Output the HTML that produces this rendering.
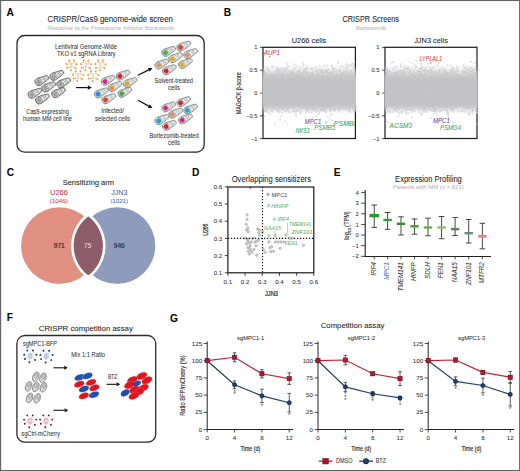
<!DOCTYPE html>
<html><head><meta charset="utf-8"><style>
html,body{margin:0;padding:0;background:#fff;}
svg{display:block;font-family:"Liberation Sans", sans-serif;}
</style></head><body>
<svg width="520" height="471" viewBox="0 0 520 471">
<rect width="520" height="471" fill="#fff"/>
<rect x="0" y="0" width="520" height="1.05" fill="#606060"/>
<rect x="0" y="0" width="1.15" height="471" fill="#646464"/>
<rect x="0" y="470" width="520" height="1" fill="#606060"/>
<rect x="519" y="0" width="1" height="471" fill="#707070"/>
<text x="6.5" y="15.6" font-size="10.2" fill="#000" font-weight="bold" >A</text>
<text x="223.8" y="15.5" font-size="10.2" fill="#000" font-weight="bold" >B</text>
<text x="6.8" y="175.6" font-size="10.2" fill="#000" font-weight="bold" >C</text>
<text x="192.1" y="175.9" font-size="10.2" fill="#000" font-weight="bold" >D</text>
<text x="333.8" y="175.6" font-size="10.2" fill="#000" font-weight="bold" >E</text>
<text x="6.8" y="321.3" font-size="10.2" fill="#000" font-weight="bold" >F</text>
<text x="170" y="322" font-size="10.2" fill="#000" font-weight="bold" >G</text>
<text x="47.5" y="21.8" font-size="8.5" fill="#222" stroke="#222" stroke-width="0.06" textLength="125.5" lengthAdjust="spacingAndGlyphs" >CRISPR/Cas9 genome-wide screen</text>
<text x="47.5" y="30.2" font-size="6" fill="#b8b8b8" stroke="#b8b8b8" stroke-width="0.06" textLength="126.5" lengthAdjust="spacingAndGlyphs" >Response to the Proteasome Inhibitor Bortezomib</text>
<rect x="17" y="35.5" width="187.2" height="116.6" rx="7.5" ry="7.5" fill="none" stroke="#2a2a2a" stroke-width="1.3"/>
<text x="55" y="48.8" font-size="6.6" fill="#333" stroke="#333" stroke-width="0.06" textLength="62" lengthAdjust="spacingAndGlyphs" >Lentiviral Genome-Wide</text>
<text x="57" y="55.5" font-size="6.6" fill="#333" stroke="#333" stroke-width="0.06" textLength="58.5" lengthAdjust="spacingAndGlyphs" >TKO v1 sgRNA Library</text>
<text x="26.3" y="113.8" font-size="6.6" fill="#333" stroke="#333" stroke-width="0.06" textLength="42.5" lengthAdjust="spacingAndGlyphs" >Cas9-expressing</text>
<text x="23" y="120.8" font-size="6.6" fill="#333" stroke="#333" stroke-width="0.06" textLength="49" lengthAdjust="spacingAndGlyphs" >human MM cell line</text>
<text x="101.3" y="113.3" font-size="6.6" fill="#333" stroke="#333" stroke-width="0.06" textLength="22.5" lengthAdjust="spacingAndGlyphs" >Infected/</text>
<text x="95" y="120.5" font-size="6.6" fill="#333" stroke="#333" stroke-width="0.06" textLength="35" lengthAdjust="spacingAndGlyphs" >selected cells</text>
<text x="154.5" y="83.3" font-size="6.6" fill="#333" stroke="#333" stroke-width="0.06" textLength="38.5" lengthAdjust="spacingAndGlyphs" >Solvent-treated</text>
<text x="168" y="90.2" font-size="6.6" fill="#333" stroke="#333" stroke-width="0.06" textLength="12" lengthAdjust="spacingAndGlyphs" >cells</text>
<text x="149.5" y="137.6" font-size="6.6" fill="#333" stroke="#333" stroke-width="0.06" textLength="49.2" lengthAdjust="spacingAndGlyphs" >Bortezomib-treated</text>
<text x="168" y="144.6" font-size="6.6" fill="#333" stroke="#333" stroke-width="0.06" textLength="12" lengthAdjust="spacingAndGlyphs" >cells</text>
<line x1="76.00" y1="87.60" x2="87.80" y2="87.60" stroke="#111" stroke-width="1.2" />
<polygon points="91.80,87.60 87.80,89.80 87.80,85.40" fill="#111"/>
<line x1="137.90" y1="75.20" x2="148.81" y2="69.86" stroke="#111" stroke-width="1.2" />
<polygon points="152.40,68.10 149.78,71.83 147.84,67.88" fill="#111"/>
<line x1="137.90" y1="100.30" x2="148.87" y2="106.12" stroke="#111" stroke-width="1.2" />
<polygon points="152.40,108.00 147.84,108.07 149.90,104.18" fill="#111"/>
<g transform="translate(41.90,80.20) rotate(-27)">
<path d="M-3.6000000000000005,-3.8 L5.0440000000000005,-2.356 A2.356,2.356 0 0 1 5.0440000000000005,2.356 L-3.6000000000000005,3.8 A3.8,3.8 0 0 1 -3.6000000000000005,-3.8 Z" fill="#fff" stroke="#444444" stroke-width="0.7"/>
<path d="M-3.6000000000000005,-2.75 L5.0440000000000005,-1.3559999999999999 A1.3559999999999999,1.3559999999999999 0 0 1 5.0440000000000005,1.3559999999999999 L-3.6000000000000005,2.75 A2.75,2.75 0 0 1 -3.6000000000000005,-2.75 Z" fill="#f0f0f0" stroke="#444444" stroke-width="0.4" stroke-opacity="0.8"/>
<circle cx="-3.6000000000000005" cy="0" r="3.05" fill="#ffffff" stroke="#444444" stroke-width="0.45"/>
<circle cx="-3.6000000000000005" cy="0" r="2.4" fill="#a0a0a0"/>
<line x1="1.2" y1="-1.0" x2="1.5" y2="1.0" stroke="#444444" stroke-width="0.4"/>
<line x1="2.4" y1="-1.0" x2="2.6999999999999997" y2="1.0" stroke="#444444" stroke-width="0.4"/>
<line x1="3.5999999999999996" y1="-1.0" x2="3.8999999999999995" y2="1.0" stroke="#444444" stroke-width="0.4"/>
</g>
<g transform="translate(56.90,75.00) rotate(-27)">
<path d="M-3.6000000000000005,-3.8 L5.0440000000000005,-2.356 A2.356,2.356 0 0 1 5.0440000000000005,2.356 L-3.6000000000000005,3.8 A3.8,3.8 0 0 1 -3.6000000000000005,-3.8 Z" fill="#fff" stroke="#444444" stroke-width="0.7"/>
<path d="M-3.6000000000000005,-2.75 L5.0440000000000005,-1.3559999999999999 A1.3559999999999999,1.3559999999999999 0 0 1 5.0440000000000005,1.3559999999999999 L-3.6000000000000005,2.75 A2.75,2.75 0 0 1 -3.6000000000000005,-2.75 Z" fill="#f0f0f0" stroke="#444444" stroke-width="0.4" stroke-opacity="0.8"/>
<circle cx="-3.6000000000000005" cy="0" r="3.05" fill="#ffffff" stroke="#444444" stroke-width="0.45"/>
<circle cx="-3.6000000000000005" cy="0" r="2.4" fill="#a0a0a0"/>
<line x1="1.2" y1="-1.0" x2="1.5" y2="1.0" stroke="#444444" stroke-width="0.4"/>
<line x1="2.4" y1="-1.0" x2="2.6999999999999997" y2="1.0" stroke="#444444" stroke-width="0.4"/>
<line x1="3.5999999999999996" y1="-1.0" x2="3.8999999999999995" y2="1.0" stroke="#444444" stroke-width="0.4"/>
</g>
<g transform="translate(48.80,86.50) rotate(-27)">
<path d="M-3.6000000000000005,-3.8 L5.0440000000000005,-2.356 A2.356,2.356 0 0 1 5.0440000000000005,2.356 L-3.6000000000000005,3.8 A3.8,3.8 0 0 1 -3.6000000000000005,-3.8 Z" fill="#fff" stroke="#444444" stroke-width="0.7"/>
<path d="M-3.6000000000000005,-2.75 L5.0440000000000005,-1.3559999999999999 A1.3559999999999999,1.3559999999999999 0 0 1 5.0440000000000005,1.3559999999999999 L-3.6000000000000005,2.75 A2.75,2.75 0 0 1 -3.6000000000000005,-2.75 Z" fill="#f0f0f0" stroke="#444444" stroke-width="0.4" stroke-opacity="0.8"/>
<circle cx="-3.6000000000000005" cy="0" r="3.05" fill="#ffffff" stroke="#444444" stroke-width="0.45"/>
<circle cx="-3.6000000000000005" cy="0" r="2.4" fill="#a0a0a0"/>
<line x1="1.2" y1="-1.0" x2="1.5" y2="1.0" stroke="#444444" stroke-width="0.4"/>
<line x1="2.4" y1="-1.0" x2="2.6999999999999997" y2="1.0" stroke="#444444" stroke-width="0.4"/>
<line x1="3.5999999999999996" y1="-1.0" x2="3.8999999999999995" y2="1.0" stroke="#444444" stroke-width="0.4"/>
</g>
<g transform="translate(63.80,82.50) rotate(-27)">
<path d="M-3.6000000000000005,-3.8 L5.0440000000000005,-2.356 A2.356,2.356 0 0 1 5.0440000000000005,2.356 L-3.6000000000000005,3.8 A3.8,3.8 0 0 1 -3.6000000000000005,-3.8 Z" fill="#fff" stroke="#444444" stroke-width="0.7"/>
<path d="M-3.6000000000000005,-2.75 L5.0440000000000005,-1.3559999999999999 A1.3559999999999999,1.3559999999999999 0 0 1 5.0440000000000005,1.3559999999999999 L-3.6000000000000005,2.75 A2.75,2.75 0 0 1 -3.6000000000000005,-2.75 Z" fill="#f0f0f0" stroke="#444444" stroke-width="0.4" stroke-opacity="0.8"/>
<circle cx="-3.6000000000000005" cy="0" r="3.05" fill="#ffffff" stroke="#444444" stroke-width="0.45"/>
<circle cx="-3.6000000000000005" cy="0" r="2.4" fill="#a0a0a0"/>
<line x1="1.2" y1="-1.0" x2="1.5" y2="1.0" stroke="#444444" stroke-width="0.4"/>
<line x1="2.4" y1="-1.0" x2="2.6999999999999997" y2="1.0" stroke="#444444" stroke-width="0.4"/>
<line x1="3.5999999999999996" y1="-1.0" x2="3.8999999999999995" y2="1.0" stroke="#444444" stroke-width="0.4"/>
</g>
<g transform="translate(35.00,92.90) rotate(-27)">
<path d="M-3.6000000000000005,-3.8 L5.0440000000000005,-2.356 A2.356,2.356 0 0 1 5.0440000000000005,2.356 L-3.6000000000000005,3.8 A3.8,3.8 0 0 1 -3.6000000000000005,-3.8 Z" fill="#fff" stroke="#444444" stroke-width="0.7"/>
<path d="M-3.6000000000000005,-2.75 L5.0440000000000005,-1.3559999999999999 A1.3559999999999999,1.3559999999999999 0 0 1 5.0440000000000005,1.3559999999999999 L-3.6000000000000005,2.75 A2.75,2.75 0 0 1 -3.6000000000000005,-2.75 Z" fill="#f0f0f0" stroke="#444444" stroke-width="0.4" stroke-opacity="0.8"/>
<circle cx="-3.6000000000000005" cy="0" r="3.05" fill="#ffffff" stroke="#444444" stroke-width="0.45"/>
<circle cx="-3.6000000000000005" cy="0" r="2.4" fill="#a0a0a0"/>
<line x1="1.2" y1="-1.0" x2="1.5" y2="1.0" stroke="#444444" stroke-width="0.4"/>
<line x1="2.4" y1="-1.0" x2="2.6999999999999997" y2="1.0" stroke="#444444" stroke-width="0.4"/>
<line x1="3.5999999999999996" y1="-1.0" x2="3.8999999999999995" y2="1.0" stroke="#444444" stroke-width="0.4"/>
</g>
<g transform="translate(58.60,92.30) rotate(-27)">
<path d="M-3.6000000000000005,-3.8 L5.0440000000000005,-2.356 A2.356,2.356 0 0 1 5.0440000000000005,2.356 L-3.6000000000000005,3.8 A3.8,3.8 0 0 1 -3.6000000000000005,-3.8 Z" fill="#fff" stroke="#444444" stroke-width="0.7"/>
<path d="M-3.6000000000000005,-2.75 L5.0440000000000005,-1.3559999999999999 A1.3559999999999999,1.3559999999999999 0 0 1 5.0440000000000005,1.3559999999999999 L-3.6000000000000005,2.75 A2.75,2.75 0 0 1 -3.6000000000000005,-2.75 Z" fill="#f0f0f0" stroke="#444444" stroke-width="0.4" stroke-opacity="0.8"/>
<circle cx="-3.6000000000000005" cy="0" r="3.05" fill="#ffffff" stroke="#444444" stroke-width="0.45"/>
<circle cx="-3.6000000000000005" cy="0" r="2.4" fill="#a0a0a0"/>
<line x1="1.2" y1="-1.0" x2="1.5" y2="1.0" stroke="#444444" stroke-width="0.4"/>
<line x1="2.4" y1="-1.0" x2="2.6999999999999997" y2="1.0" stroke="#444444" stroke-width="0.4"/>
<line x1="3.5999999999999996" y1="-1.0" x2="3.8999999999999995" y2="1.0" stroke="#444444" stroke-width="0.4"/>
</g>
<g transform="translate(42.50,98.60) rotate(-27)">
<path d="M-3.6000000000000005,-3.8 L5.0440000000000005,-2.356 A2.356,2.356 0 0 1 5.0440000000000005,2.356 L-3.6000000000000005,3.8 A3.8,3.8 0 0 1 -3.6000000000000005,-3.8 Z" fill="#fff" stroke="#444444" stroke-width="0.7"/>
<path d="M-3.6000000000000005,-2.75 L5.0440000000000005,-1.3559999999999999 A1.3559999999999999,1.3559999999999999 0 0 1 5.0440000000000005,1.3559999999999999 L-3.6000000000000005,2.75 A2.75,2.75 0 0 1 -3.6000000000000005,-2.75 Z" fill="#f0f0f0" stroke="#444444" stroke-width="0.4" stroke-opacity="0.8"/>
<circle cx="-3.6000000000000005" cy="0" r="3.05" fill="#ffffff" stroke="#444444" stroke-width="0.45"/>
<circle cx="-3.6000000000000005" cy="0" r="2.4" fill="#a0a0a0"/>
<line x1="1.2" y1="-1.0" x2="1.5" y2="1.0" stroke="#444444" stroke-width="0.4"/>
<line x1="2.4" y1="-1.0" x2="2.6999999999999997" y2="1.0" stroke="#444444" stroke-width="0.4"/>
<line x1="3.5999999999999996" y1="-1.0" x2="3.8999999999999995" y2="1.0" stroke="#444444" stroke-width="0.4"/>
</g>
<g transform="translate(108.20,79.90) rotate(-27)">
<path d="M-3.6000000000000005,-3.8 L5.0440000000000005,-2.356 A2.356,2.356 0 0 1 5.0440000000000005,2.356 L-3.6000000000000005,3.8 A3.8,3.8 0 0 1 -3.6000000000000005,-3.8 Z" fill="#fff" stroke="#687470" stroke-width="0.7"/>
<path d="M-3.6000000000000005,-2.75 L5.0440000000000005,-1.3559999999999999 A1.3559999999999999,1.3559999999999999 0 0 1 5.0440000000000005,1.3559999999999999 L-3.6000000000000005,2.75 A2.75,2.75 0 0 1 -3.6000000000000005,-2.75 Z" fill="#f2f2f2" stroke="#687470" stroke-width="0.4" stroke-opacity="0.8"/>
<circle cx="-3.6000000000000005" cy="0" r="3.05" fill="#fff" stroke="#687470" stroke-width="0.45"/>
<circle cx="-3.6000000000000005" cy="0" r="2.4" fill="#d6237f"/>
<line x1="1.2" y1="-1.0" x2="1.5" y2="1.0" stroke="#687470" stroke-width="0.4"/>
<line x1="2.4" y1="-1.0" x2="2.6999999999999997" y2="1.0" stroke="#687470" stroke-width="0.4"/>
<line x1="3.5999999999999996" y1="-1.0" x2="3.8999999999999995" y2="1.0" stroke="#687470" stroke-width="0.4"/>
</g>
<g transform="translate(123.20,74.70) rotate(-27)">
<path d="M-3.6000000000000005,-3.8 L5.0440000000000005,-2.356 A2.356,2.356 0 0 1 5.0440000000000005,2.356 L-3.6000000000000005,3.8 A3.8,3.8 0 0 1 -3.6000000000000005,-3.8 Z" fill="#fff" stroke="#687470" stroke-width="0.7"/>
<path d="M-3.6000000000000005,-2.75 L5.0440000000000005,-1.3559999999999999 A1.3559999999999999,1.3559999999999999 0 0 1 5.0440000000000005,1.3559999999999999 L-3.6000000000000005,2.75 A2.75,2.75 0 0 1 -3.6000000000000005,-2.75 Z" fill="#f2f2f2" stroke="#687470" stroke-width="0.4" stroke-opacity="0.8"/>
<circle cx="-3.6000000000000005" cy="0" r="3.05" fill="#fff" stroke="#687470" stroke-width="0.45"/>
<circle cx="-3.6000000000000005" cy="0" r="2.4" fill="#d9202a"/>
<line x1="1.2" y1="-1.0" x2="1.5" y2="1.0" stroke="#687470" stroke-width="0.4"/>
<line x1="2.4" y1="-1.0" x2="2.6999999999999997" y2="1.0" stroke="#687470" stroke-width="0.4"/>
<line x1="3.5999999999999996" y1="-1.0" x2="3.8999999999999995" y2="1.0" stroke="#687470" stroke-width="0.4"/>
</g>
<g transform="translate(115.10,86.20) rotate(-27)">
<path d="M-3.6000000000000005,-3.8 L5.0440000000000005,-2.356 A2.356,2.356 0 0 1 5.0440000000000005,2.356 L-3.6000000000000005,3.8 A3.8,3.8 0 0 1 -3.6000000000000005,-3.8 Z" fill="#fff" stroke="#687470" stroke-width="0.7"/>
<path d="M-3.6000000000000005,-2.75 L5.0440000000000005,-1.3559999999999999 A1.3559999999999999,1.3559999999999999 0 0 1 5.0440000000000005,1.3559999999999999 L-3.6000000000000005,2.75 A2.75,2.75 0 0 1 -3.6000000000000005,-2.75 Z" fill="#f2f2f2" stroke="#687470" stroke-width="0.4" stroke-opacity="0.8"/>
<circle cx="-3.6000000000000005" cy="0" r="3.05" fill="#fff" stroke="#687470" stroke-width="0.45"/>
<circle cx="-3.6000000000000005" cy="0" r="2.4" fill="#e8962e"/>
<line x1="1.2" y1="-1.0" x2="1.5" y2="1.0" stroke="#687470" stroke-width="0.4"/>
<line x1="2.4" y1="-1.0" x2="2.6999999999999997" y2="1.0" stroke="#687470" stroke-width="0.4"/>
<line x1="3.5999999999999996" y1="-1.0" x2="3.8999999999999995" y2="1.0" stroke="#687470" stroke-width="0.4"/>
</g>
<g transform="translate(130.10,82.20) rotate(-27)">
<path d="M-3.6000000000000005,-3.8 L5.0440000000000005,-2.356 A2.356,2.356 0 0 1 5.0440000000000005,2.356 L-3.6000000000000005,3.8 A3.8,3.8 0 0 1 -3.6000000000000005,-3.8 Z" fill="#fff" stroke="#687470" stroke-width="0.7"/>
<path d="M-3.6000000000000005,-2.75 L5.0440000000000005,-1.3559999999999999 A1.3559999999999999,1.3559999999999999 0 0 1 5.0440000000000005,1.3559999999999999 L-3.6000000000000005,2.75 A2.75,2.75 0 0 1 -3.6000000000000005,-2.75 Z" fill="#f2f2f2" stroke="#687470" stroke-width="0.4" stroke-opacity="0.8"/>
<circle cx="-3.6000000000000005" cy="0" r="3.05" fill="#fff" stroke="#687470" stroke-width="0.45"/>
<circle cx="-3.6000000000000005" cy="0" r="2.4" fill="#e0a030"/>
<line x1="1.2" y1="-1.0" x2="1.5" y2="1.0" stroke="#687470" stroke-width="0.4"/>
<line x1="2.4" y1="-1.0" x2="2.6999999999999997" y2="1.0" stroke="#687470" stroke-width="0.4"/>
<line x1="3.5999999999999996" y1="-1.0" x2="3.8999999999999995" y2="1.0" stroke="#687470" stroke-width="0.4"/>
</g>
<g transform="translate(101.30,92.60) rotate(-27)">
<path d="M-3.6000000000000005,-3.8 L5.0440000000000005,-2.356 A2.356,2.356 0 0 1 5.0440000000000005,2.356 L-3.6000000000000005,3.8 A3.8,3.8 0 0 1 -3.6000000000000005,-3.8 Z" fill="#fff" stroke="#687470" stroke-width="0.7"/>
<path d="M-3.6000000000000005,-2.75 L5.0440000000000005,-1.3559999999999999 A1.3559999999999999,1.3559999999999999 0 0 1 5.0440000000000005,1.3559999999999999 L-3.6000000000000005,2.75 A2.75,2.75 0 0 1 -3.6000000000000005,-2.75 Z" fill="#f2f2f2" stroke="#687470" stroke-width="0.4" stroke-opacity="0.8"/>
<circle cx="-3.6000000000000005" cy="0" r="3.05" fill="#fff" stroke="#687470" stroke-width="0.45"/>
<circle cx="-3.6000000000000005" cy="0" r="2.4" fill="#2a8fd0"/>
<line x1="1.2" y1="-1.0" x2="1.5" y2="1.0" stroke="#687470" stroke-width="0.4"/>
<line x1="2.4" y1="-1.0" x2="2.6999999999999997" y2="1.0" stroke="#687470" stroke-width="0.4"/>
<line x1="3.5999999999999996" y1="-1.0" x2="3.8999999999999995" y2="1.0" stroke="#687470" stroke-width="0.4"/>
</g>
<g transform="translate(124.90,92.00) rotate(-27)">
<path d="M-3.6000000000000005,-3.8 L5.0440000000000005,-2.356 A2.356,2.356 0 0 1 5.0440000000000005,2.356 L-3.6000000000000005,3.8 A3.8,3.8 0 0 1 -3.6000000000000005,-3.8 Z" fill="#fff" stroke="#687470" stroke-width="0.7"/>
<path d="M-3.6000000000000005,-2.75 L5.0440000000000005,-1.3559999999999999 A1.3559999999999999,1.3559999999999999 0 0 1 5.0440000000000005,1.3559999999999999 L-3.6000000000000005,2.75 A2.75,2.75 0 0 1 -3.6000000000000005,-2.75 Z" fill="#f2f2f2" stroke="#687470" stroke-width="0.4" stroke-opacity="0.8"/>
<circle cx="-3.6000000000000005" cy="0" r="3.05" fill="#fff" stroke="#687470" stroke-width="0.45"/>
<circle cx="-3.6000000000000005" cy="0" r="2.4" fill="#4aa84a"/>
<line x1="1.2" y1="-1.0" x2="1.5" y2="1.0" stroke="#687470" stroke-width="0.4"/>
<line x1="2.4" y1="-1.0" x2="2.6999999999999997" y2="1.0" stroke="#687470" stroke-width="0.4"/>
<line x1="3.5999999999999996" y1="-1.0" x2="3.8999999999999995" y2="1.0" stroke="#687470" stroke-width="0.4"/>
</g>
<g transform="translate(108.80,98.30) rotate(-27)">
<path d="M-3.6000000000000005,-3.8 L5.0440000000000005,-2.356 A2.356,2.356 0 0 1 5.0440000000000005,2.356 L-3.6000000000000005,3.8 A3.8,3.8 0 0 1 -3.6000000000000005,-3.8 Z" fill="#fff" stroke="#687470" stroke-width="0.7"/>
<path d="M-3.6000000000000005,-2.75 L5.0440000000000005,-1.3559999999999999 A1.3559999999999999,1.3559999999999999 0 0 1 5.0440000000000005,1.3559999999999999 L-3.6000000000000005,2.75 A2.75,2.75 0 0 1 -3.6000000000000005,-2.75 Z" fill="#f2f2f2" stroke="#687470" stroke-width="0.4" stroke-opacity="0.8"/>
<circle cx="-3.6000000000000005" cy="0" r="3.05" fill="#fff" stroke="#687470" stroke-width="0.45"/>
<circle cx="-3.6000000000000005" cy="0" r="2.4" fill="#d9472a"/>
<line x1="1.2" y1="-1.0" x2="1.5" y2="1.0" stroke="#687470" stroke-width="0.4"/>
<line x1="2.4" y1="-1.0" x2="2.6999999999999997" y2="1.0" stroke="#687470" stroke-width="0.4"/>
<line x1="3.5999999999999996" y1="-1.0" x2="3.8999999999999995" y2="1.0" stroke="#687470" stroke-width="0.4"/>
</g>
<g transform="translate(168.80,51.00) rotate(-27)">
<path d="M-3.6000000000000005,-3.8 L5.0440000000000005,-2.356 A2.356,2.356 0 0 1 5.0440000000000005,2.356 L-3.6000000000000005,3.8 A3.8,3.8 0 0 1 -3.6000000000000005,-3.8 Z" fill="#fff" stroke="#687470" stroke-width="0.7"/>
<path d="M-3.6000000000000005,-2.75 L5.0440000000000005,-1.3559999999999999 A1.3559999999999999,1.3559999999999999 0 0 1 5.0440000000000005,1.3559999999999999 L-3.6000000000000005,2.75 A2.75,2.75 0 0 1 -3.6000000000000005,-2.75 Z" fill="#f2f2f2" stroke="#687470" stroke-width="0.4" stroke-opacity="0.8"/>
<circle cx="-3.6000000000000005" cy="0" r="3.05" fill="#fff" stroke="#687470" stroke-width="0.45"/>
<circle cx="-3.6000000000000005" cy="0" r="2.4" fill="#4aa84a"/>
<line x1="1.2" y1="-1.0" x2="1.5" y2="1.0" stroke="#687470" stroke-width="0.4"/>
<line x1="2.4" y1="-1.0" x2="2.6999999999999997" y2="1.0" stroke="#687470" stroke-width="0.4"/>
<line x1="3.5999999999999996" y1="-1.0" x2="3.8999999999999995" y2="1.0" stroke="#687470" stroke-width="0.4"/>
</g>
<g transform="translate(183.80,45.80) rotate(-27)">
<path d="M-3.6000000000000005,-3.8 L5.0440000000000005,-2.356 A2.356,2.356 0 0 1 5.0440000000000005,2.356 L-3.6000000000000005,3.8 A3.8,3.8 0 0 1 -3.6000000000000005,-3.8 Z" fill="#fff" stroke="#687470" stroke-width="0.7"/>
<path d="M-3.6000000000000005,-2.75 L5.0440000000000005,-1.3559999999999999 A1.3559999999999999,1.3559999999999999 0 0 1 5.0440000000000005,1.3559999999999999 L-3.6000000000000005,2.75 A2.75,2.75 0 0 1 -3.6000000000000005,-2.75 Z" fill="#f2f2f2" stroke="#687470" stroke-width="0.4" stroke-opacity="0.8"/>
<circle cx="-3.6000000000000005" cy="0" r="3.05" fill="#fff" stroke="#687470" stroke-width="0.45"/>
<circle cx="-3.6000000000000005" cy="0" r="2.4" fill="#d9402a"/>
<line x1="1.2" y1="-1.0" x2="1.5" y2="1.0" stroke="#687470" stroke-width="0.4"/>
<line x1="2.4" y1="-1.0" x2="2.6999999999999997" y2="1.0" stroke="#687470" stroke-width="0.4"/>
<line x1="3.5999999999999996" y1="-1.0" x2="3.8999999999999995" y2="1.0" stroke="#687470" stroke-width="0.4"/>
</g>
<g transform="translate(175.70,57.30) rotate(-27)">
<path d="M-3.6000000000000005,-3.8 L5.0440000000000005,-2.356 A2.356,2.356 0 0 1 5.0440000000000005,2.356 L-3.6000000000000005,3.8 A3.8,3.8 0 0 1 -3.6000000000000005,-3.8 Z" fill="#fff" stroke="#687470" stroke-width="0.7"/>
<path d="M-3.6000000000000005,-2.75 L5.0440000000000005,-1.3559999999999999 A1.3559999999999999,1.3559999999999999 0 0 1 5.0440000000000005,1.3559999999999999 L-3.6000000000000005,2.75 A2.75,2.75 0 0 1 -3.6000000000000005,-2.75 Z" fill="#f2f2f2" stroke="#687470" stroke-width="0.4" stroke-opacity="0.8"/>
<circle cx="-3.6000000000000005" cy="0" r="3.05" fill="#fff" stroke="#687470" stroke-width="0.45"/>
<circle cx="-3.6000000000000005" cy="0" r="2.4" fill="#e8a62e"/>
<line x1="1.2" y1="-1.0" x2="1.5" y2="1.0" stroke="#687470" stroke-width="0.4"/>
<line x1="2.4" y1="-1.0" x2="2.6999999999999997" y2="1.0" stroke="#687470" stroke-width="0.4"/>
<line x1="3.5999999999999996" y1="-1.0" x2="3.8999999999999995" y2="1.0" stroke="#687470" stroke-width="0.4"/>
</g>
<g transform="translate(190.70,53.30) rotate(-27)">
<path d="M-3.6000000000000005,-3.8 L5.0440000000000005,-2.356 A2.356,2.356 0 0 1 5.0440000000000005,2.356 L-3.6000000000000005,3.8 A3.8,3.8 0 0 1 -3.6000000000000005,-3.8 Z" fill="#fff" stroke="#687470" stroke-width="0.7"/>
<path d="M-3.6000000000000005,-2.75 L5.0440000000000005,-1.3559999999999999 A1.3559999999999999,1.3559999999999999 0 0 1 5.0440000000000005,1.3559999999999999 L-3.6000000000000005,2.75 A2.75,2.75 0 0 1 -3.6000000000000005,-2.75 Z" fill="#f2f2f2" stroke="#687470" stroke-width="0.4" stroke-opacity="0.8"/>
<circle cx="-3.6000000000000005" cy="0" r="3.05" fill="#fff" stroke="#687470" stroke-width="0.45"/>
<circle cx="-3.6000000000000005" cy="0" r="2.4" fill="#d9906a"/>
<line x1="1.2" y1="-1.0" x2="1.5" y2="1.0" stroke="#687470" stroke-width="0.4"/>
<line x1="2.4" y1="-1.0" x2="2.6999999999999997" y2="1.0" stroke="#687470" stroke-width="0.4"/>
<line x1="3.5999999999999996" y1="-1.0" x2="3.8999999999999995" y2="1.0" stroke="#687470" stroke-width="0.4"/>
</g>
<g transform="translate(161.90,63.70) rotate(-27)">
<path d="M-3.6000000000000005,-3.8 L5.0440000000000005,-2.356 A2.356,2.356 0 0 1 5.0440000000000005,2.356 L-3.6000000000000005,3.8 A3.8,3.8 0 0 1 -3.6000000000000005,-3.8 Z" fill="#fff" stroke="#687470" stroke-width="0.7"/>
<path d="M-3.6000000000000005,-2.75 L5.0440000000000005,-1.3559999999999999 A1.3559999999999999,1.3559999999999999 0 0 1 5.0440000000000005,1.3559999999999999 L-3.6000000000000005,2.75 A2.75,2.75 0 0 1 -3.6000000000000005,-2.75 Z" fill="#f2f2f2" stroke="#687470" stroke-width="0.4" stroke-opacity="0.8"/>
<circle cx="-3.6000000000000005" cy="0" r="3.05" fill="#fff" stroke="#687470" stroke-width="0.45"/>
<circle cx="-3.6000000000000005" cy="0" r="2.4" fill="#d09a70"/>
<line x1="1.2" y1="-1.0" x2="1.5" y2="1.0" stroke="#687470" stroke-width="0.4"/>
<line x1="2.4" y1="-1.0" x2="2.6999999999999997" y2="1.0" stroke="#687470" stroke-width="0.4"/>
<line x1="3.5999999999999996" y1="-1.0" x2="3.8999999999999995" y2="1.0" stroke="#687470" stroke-width="0.4"/>
</g>
<g transform="translate(185.50,63.10) rotate(-27)">
<path d="M-3.6000000000000005,-3.8 L5.0440000000000005,-2.356 A2.356,2.356 0 0 1 5.0440000000000005,2.356 L-3.6000000000000005,3.8 A3.8,3.8 0 0 1 -3.6000000000000005,-3.8 Z" fill="#fff" stroke="#687470" stroke-width="0.7"/>
<path d="M-3.6000000000000005,-2.75 L5.0440000000000005,-1.3559999999999999 A1.3559999999999999,1.3559999999999999 0 0 1 5.0440000000000005,1.3559999999999999 L-3.6000000000000005,2.75 A2.75,2.75 0 0 1 -3.6000000000000005,-2.75 Z" fill="#f2f2f2" stroke="#687470" stroke-width="0.4" stroke-opacity="0.8"/>
<circle cx="-3.6000000000000005" cy="0" r="3.05" fill="#fff" stroke="#687470" stroke-width="0.45"/>
<circle cx="-3.6000000000000005" cy="0" r="2.4" fill="#e8a62e"/>
<line x1="1.2" y1="-1.0" x2="1.5" y2="1.0" stroke="#687470" stroke-width="0.4"/>
<line x1="2.4" y1="-1.0" x2="2.6999999999999997" y2="1.0" stroke="#687470" stroke-width="0.4"/>
<line x1="3.5999999999999996" y1="-1.0" x2="3.8999999999999995" y2="1.0" stroke="#687470" stroke-width="0.4"/>
</g>
<g transform="translate(169.40,69.40) rotate(-27)">
<path d="M-3.6000000000000005,-3.8 L5.0440000000000005,-2.356 A2.356,2.356 0 0 1 5.0440000000000005,2.356 L-3.6000000000000005,3.8 A3.8,3.8 0 0 1 -3.6000000000000005,-3.8 Z" fill="#fff" stroke="#687470" stroke-width="0.7"/>
<path d="M-3.6000000000000005,-2.75 L5.0440000000000005,-1.3559999999999999 A1.3559999999999999,1.3559999999999999 0 0 1 5.0440000000000005,1.3559999999999999 L-3.6000000000000005,2.75 A2.75,2.75 0 0 1 -3.6000000000000005,-2.75 Z" fill="#f2f2f2" stroke="#687470" stroke-width="0.4" stroke-opacity="0.8"/>
<circle cx="-3.6000000000000005" cy="0" r="3.05" fill="#fff" stroke="#687470" stroke-width="0.45"/>
<circle cx="-3.6000000000000005" cy="0" r="2.4" fill="#d9202a"/>
<line x1="1.2" y1="-1.0" x2="1.5" y2="1.0" stroke="#687470" stroke-width="0.4"/>
<line x1="2.4" y1="-1.0" x2="2.6999999999999997" y2="1.0" stroke="#687470" stroke-width="0.4"/>
<line x1="3.5999999999999996" y1="-1.0" x2="3.8999999999999995" y2="1.0" stroke="#687470" stroke-width="0.4"/>
</g>
<g transform="translate(168.80,106.50) rotate(-27)">
<path d="M-3.6000000000000005,-3.8 L5.0440000000000005,-2.356 A2.356,2.356 0 0 1 5.0440000000000005,2.356 L-3.6000000000000005,3.8 A3.8,3.8 0 0 1 -3.6000000000000005,-3.8 Z" fill="#fff" stroke="#687470" stroke-width="0.7"/>
<path d="M-3.6000000000000005,-2.75 L5.0440000000000005,-1.3559999999999999 A1.3559999999999999,1.3559999999999999 0 0 1 5.0440000000000005,1.3559999999999999 L-3.6000000000000005,2.75 A2.75,2.75 0 0 1 -3.6000000000000005,-2.75 Z" fill="#f2f2f2" stroke="#687470" stroke-width="0.4" stroke-opacity="0.8"/>
<circle cx="-3.6000000000000005" cy="0" r="3.05" fill="#fff" stroke="#687470" stroke-width="0.45"/>
<circle cx="-3.6000000000000005" cy="0" r="2.4" fill="#d6237f"/>
<line x1="1.2" y1="-1.0" x2="1.5" y2="1.0" stroke="#687470" stroke-width="0.4"/>
<line x1="2.4" y1="-1.0" x2="2.6999999999999997" y2="1.0" stroke="#687470" stroke-width="0.4"/>
<line x1="3.5999999999999996" y1="-1.0" x2="3.8999999999999995" y2="1.0" stroke="#687470" stroke-width="0.4"/>
</g>
<g transform="translate(183.80,101.30) rotate(-27)">
<path d="M-3.6000000000000005,-3.8 L5.0440000000000005,-2.356 A2.356,2.356 0 0 1 5.0440000000000005,2.356 L-3.6000000000000005,3.8 A3.8,3.8 0 0 1 -3.6000000000000005,-3.8 Z" fill="#fff" stroke="#687470" stroke-width="0.7"/>
<path d="M-3.6000000000000005,-2.75 L5.0440000000000005,-1.3559999999999999 A1.3559999999999999,1.3559999999999999 0 0 1 5.0440000000000005,1.3559999999999999 L-3.6000000000000005,2.75 A2.75,2.75 0 0 1 -3.6000000000000005,-2.75 Z" fill="#f2f2f2" stroke="#687470" stroke-width="0.4" stroke-opacity="0.8"/>
<circle cx="-3.6000000000000005" cy="0" r="3.05" fill="#fff" stroke="#687470" stroke-width="0.45"/>
<circle cx="-3.6000000000000005" cy="0" r="2.4" fill="#d9202a"/>
<line x1="1.2" y1="-1.0" x2="1.5" y2="1.0" stroke="#687470" stroke-width="0.4"/>
<line x1="2.4" y1="-1.0" x2="2.6999999999999997" y2="1.0" stroke="#687470" stroke-width="0.4"/>
<line x1="3.5999999999999996" y1="-1.0" x2="3.8999999999999995" y2="1.0" stroke="#687470" stroke-width="0.4"/>
</g>
<g transform="translate(175.70,112.80) rotate(-27)">
<path d="M-3.6000000000000005,-3.8 L5.0440000000000005,-2.356 A2.356,2.356 0 0 1 5.0440000000000005,2.356 L-3.6000000000000005,3.8 A3.8,3.8 0 0 1 -3.6000000000000005,-3.8 Z" fill="#fff" stroke="#687470" stroke-width="0.7"/>
<path d="M-3.6000000000000005,-2.75 L5.0440000000000005,-1.3559999999999999 A1.3559999999999999,1.3559999999999999 0 0 1 5.0440000000000005,1.3559999999999999 L-3.6000000000000005,2.75 A2.75,2.75 0 0 1 -3.6000000000000005,-2.75 Z" fill="#f2f2f2" stroke="#687470" stroke-width="0.4" stroke-opacity="0.8"/>
<circle cx="-3.6000000000000005" cy="0" r="3.05" fill="#fff" stroke="#687470" stroke-width="0.45"/>
<circle cx="-3.6000000000000005" cy="0" r="2.4" fill="#d9906a"/>
<line x1="1.2" y1="-1.0" x2="1.5" y2="1.0" stroke="#687470" stroke-width="0.4"/>
<line x1="2.4" y1="-1.0" x2="2.6999999999999997" y2="1.0" stroke="#687470" stroke-width="0.4"/>
<line x1="3.5999999999999996" y1="-1.0" x2="3.8999999999999995" y2="1.0" stroke="#687470" stroke-width="0.4"/>
</g>
<g transform="translate(190.70,108.80) rotate(-27)">
<path d="M-3.6000000000000005,-3.8 L5.0440000000000005,-2.356 A2.356,2.356 0 0 1 5.0440000000000005,2.356 L-3.6000000000000005,3.8 A3.8,3.8 0 0 1 -3.6000000000000005,-3.8 Z" fill="#fff" stroke="#687470" stroke-width="0.7"/>
<path d="M-3.6000000000000005,-2.75 L5.0440000000000005,-1.3559999999999999 A1.3559999999999999,1.3559999999999999 0 0 1 5.0440000000000005,1.3559999999999999 L-3.6000000000000005,2.75 A2.75,2.75 0 0 1 -3.6000000000000005,-2.75 Z" fill="#f2f2f2" stroke="#687470" stroke-width="0.4" stroke-opacity="0.8"/>
<circle cx="-3.6000000000000005" cy="0" r="3.05" fill="#fff" stroke="#687470" stroke-width="0.45"/>
<circle cx="-3.6000000000000005" cy="0" r="2.4" fill="#2a9fd0"/>
<line x1="1.2" y1="-1.0" x2="1.5" y2="1.0" stroke="#687470" stroke-width="0.4"/>
<line x1="2.4" y1="-1.0" x2="2.6999999999999997" y2="1.0" stroke="#687470" stroke-width="0.4"/>
<line x1="3.5999999999999996" y1="-1.0" x2="3.8999999999999995" y2="1.0" stroke="#687470" stroke-width="0.4"/>
</g>
<g transform="translate(161.90,119.20) rotate(-27)">
<path d="M-3.6000000000000005,-3.8 L5.0440000000000005,-2.356 A2.356,2.356 0 0 1 5.0440000000000005,2.356 L-3.6000000000000005,3.8 A3.8,3.8 0 0 1 -3.6000000000000005,-3.8 Z" fill="#fff" stroke="#687470" stroke-width="0.7"/>
<path d="M-3.6000000000000005,-2.75 L5.0440000000000005,-1.3559999999999999 A1.3559999999999999,1.3559999999999999 0 0 1 5.0440000000000005,1.3559999999999999 L-3.6000000000000005,2.75 A2.75,2.75 0 0 1 -3.6000000000000005,-2.75 Z" fill="#f2f2f2" stroke="#687470" stroke-width="0.4" stroke-opacity="0.8"/>
<circle cx="-3.6000000000000005" cy="0" r="3.05" fill="#fff" stroke="#687470" stroke-width="0.45"/>
<circle cx="-3.6000000000000005" cy="0" r="2.4" fill="#2aa0d0"/>
<line x1="1.2" y1="-1.0" x2="1.5" y2="1.0" stroke="#687470" stroke-width="0.4"/>
<line x1="2.4" y1="-1.0" x2="2.6999999999999997" y2="1.0" stroke="#687470" stroke-width="0.4"/>
<line x1="3.5999999999999996" y1="-1.0" x2="3.8999999999999995" y2="1.0" stroke="#687470" stroke-width="0.4"/>
</g>
<g transform="translate(185.50,118.60) rotate(-27)">
<path d="M-3.6000000000000005,-3.8 L5.0440000000000005,-2.356 A2.356,2.356 0 0 1 5.0440000000000005,2.356 L-3.6000000000000005,3.8 A3.8,3.8 0 0 1 -3.6000000000000005,-3.8 Z" fill="#fff" stroke="#687470" stroke-width="0.7"/>
<path d="M-3.6000000000000005,-2.75 L5.0440000000000005,-1.3559999999999999 A1.3559999999999999,1.3559999999999999 0 0 1 5.0440000000000005,1.3559999999999999 L-3.6000000000000005,2.75 A2.75,2.75 0 0 1 -3.6000000000000005,-2.75 Z" fill="#f2f2f2" stroke="#687470" stroke-width="0.4" stroke-opacity="0.8"/>
<circle cx="-3.6000000000000005" cy="0" r="3.05" fill="#fff" stroke="#687470" stroke-width="0.45"/>
<circle cx="-3.6000000000000005" cy="0" r="2.4" fill="#d6237f"/>
<line x1="1.2" y1="-1.0" x2="1.5" y2="1.0" stroke="#687470" stroke-width="0.4"/>
<line x1="2.4" y1="-1.0" x2="2.6999999999999997" y2="1.0" stroke="#687470" stroke-width="0.4"/>
<line x1="3.5999999999999996" y1="-1.0" x2="3.8999999999999995" y2="1.0" stroke="#687470" stroke-width="0.4"/>
</g>
<g transform="translate(169.40,124.90) rotate(-27)">
<path d="M-3.6000000000000005,-3.8 L5.0440000000000005,-2.356 A2.356,2.356 0 0 1 5.0440000000000005,2.356 L-3.6000000000000005,3.8 A3.8,3.8 0 0 1 -3.6000000000000005,-3.8 Z" fill="#fff" stroke="#687470" stroke-width="0.7"/>
<path d="M-3.6000000000000005,-2.75 L5.0440000000000005,-1.3559999999999999 A1.3559999999999999,1.3559999999999999 0 0 1 5.0440000000000005,1.3559999999999999 L-3.6000000000000005,2.75 A2.75,2.75 0 0 1 -3.6000000000000005,-2.75 Z" fill="#f2f2f2" stroke="#687470" stroke-width="0.4" stroke-opacity="0.8"/>
<circle cx="-3.6000000000000005" cy="0" r="3.05" fill="#fff" stroke="#687470" stroke-width="0.45"/>
<circle cx="-3.6000000000000005" cy="0" r="2.4" fill="#d9202a"/>
<line x1="1.2" y1="-1.0" x2="1.5" y2="1.0" stroke="#687470" stroke-width="0.4"/>
<line x1="2.4" y1="-1.0" x2="2.6999999999999997" y2="1.0" stroke="#687470" stroke-width="0.4"/>
<line x1="3.5999999999999996" y1="-1.0" x2="3.8999999999999995" y2="1.0" stroke="#687470" stroke-width="0.4"/>
</g>
<line x1="70.73" y1="63.59" x2="69.30" y2="60.60" stroke="#f4e4cc" stroke-width="0.4" />
<circle cx="69.30" cy="60.60" r="1.0" fill="#e0a040"/>
<line x1="72.34" y1="63.59" x2="73.90" y2="60.60" stroke="#f4e4cc" stroke-width="0.4" />
<circle cx="73.90" cy="60.60" r="1.0" fill="#e0a040"/>
<line x1="69.75" y1="64.78" x2="66.50" y2="64.00" stroke="#f4e4cc" stroke-width="0.4" />
<circle cx="66.50" cy="64.00" r="1.0" fill="#e0a040"/>
<line x1="73.32" y1="64.85" x2="76.70" y2="64.20" stroke="#f4e4cc" stroke-width="0.4" />
<circle cx="76.70" cy="64.20" r="1.0" fill="#e0a040"/>
<line x1="69.96" y1="66.11" x2="67.10" y2="67.80" stroke="#f4e4cc" stroke-width="0.4" />
<circle cx="67.10" cy="67.80" r="1.0" fill="#e0a040"/>
<line x1="72.97" y1="66.25" x2="75.70" y2="68.20" stroke="#f4e4cc" stroke-width="0.4" />
<circle cx="75.70" cy="68.20" r="1.0" fill="#e0a040"/>
<line x1="71.29" y1="66.95" x2="70.90" y2="70.20" stroke="#f4e4cc" stroke-width="0.4" />
<circle cx="70.90" cy="70.20" r="1.0" fill="#e0a040"/>
<circle cx="68.90" cy="62.60" r="0.75" fill="#f0b848"/>
<circle cx="74.10" cy="67.40" r="0.75" fill="#f0b848"/>
<circle cx="74.30" cy="62.80" r="0.75" fill="#f0b848"/>
<circle cx="69.10" cy="67.80" r="0.75" fill="#f0b848"/>
<rect x="70.70" y="62.20" width="1.6" height="6.0" rx="0.7" fill="#c8e0a8" fill-opacity="0.8" stroke="#90b070" stroke-width="0.3" stroke-opacity="0.7"/>
<line x1="85.23" y1="63.59" x2="83.80" y2="60.60" stroke="#f4e4cc" stroke-width="0.4" />
<circle cx="83.80" cy="60.60" r="1.0" fill="#e0a040"/>
<line x1="86.84" y1="63.59" x2="88.40" y2="60.60" stroke="#f4e4cc" stroke-width="0.4" />
<circle cx="88.40" cy="60.60" r="1.0" fill="#e0a040"/>
<line x1="84.25" y1="64.78" x2="81.00" y2="64.00" stroke="#f4e4cc" stroke-width="0.4" />
<circle cx="81.00" cy="64.00" r="1.0" fill="#e0a040"/>
<line x1="87.82" y1="64.85" x2="91.20" y2="64.20" stroke="#f4e4cc" stroke-width="0.4" />
<circle cx="91.20" cy="64.20" r="1.0" fill="#e0a040"/>
<line x1="84.46" y1="66.11" x2="81.60" y2="67.80" stroke="#f4e4cc" stroke-width="0.4" />
<circle cx="81.60" cy="67.80" r="1.0" fill="#e0a040"/>
<line x1="87.47" y1="66.25" x2="90.20" y2="68.20" stroke="#f4e4cc" stroke-width="0.4" />
<circle cx="90.20" cy="68.20" r="1.0" fill="#e0a040"/>
<line x1="85.79" y1="66.95" x2="85.40" y2="70.20" stroke="#f4e4cc" stroke-width="0.4" />
<circle cx="85.40" cy="70.20" r="1.0" fill="#e0a040"/>
<circle cx="83.40" cy="62.60" r="0.75" fill="#f0b848"/>
<circle cx="88.60" cy="67.40" r="0.75" fill="#f0b848"/>
<circle cx="88.80" cy="62.80" r="0.75" fill="#f0b848"/>
<circle cx="83.60" cy="67.80" r="0.75" fill="#f0b848"/>
<rect x="85.20" y="62.20" width="1.6" height="6.0" rx="0.7" fill="#f0c8dc" fill-opacity="0.8" stroke="#c890b0" stroke-width="0.3" stroke-opacity="0.7"/>
<line x1="99.63" y1="63.59" x2="98.20" y2="60.60" stroke="#f4e4cc" stroke-width="0.4" />
<circle cx="98.20" cy="60.60" r="1.0" fill="#e0a040"/>
<line x1="101.24" y1="63.59" x2="102.80" y2="60.60" stroke="#f4e4cc" stroke-width="0.4" />
<circle cx="102.80" cy="60.60" r="1.0" fill="#e0a040"/>
<line x1="98.65" y1="64.78" x2="95.40" y2="64.00" stroke="#f4e4cc" stroke-width="0.4" />
<circle cx="95.40" cy="64.00" r="1.0" fill="#e0a040"/>
<line x1="102.22" y1="64.85" x2="105.60" y2="64.20" stroke="#f4e4cc" stroke-width="0.4" />
<circle cx="105.60" cy="64.20" r="1.0" fill="#e0a040"/>
<line x1="98.86" y1="66.11" x2="96.00" y2="67.80" stroke="#f4e4cc" stroke-width="0.4" />
<circle cx="96.00" cy="67.80" r="1.0" fill="#e0a040"/>
<line x1="101.87" y1="66.25" x2="104.60" y2="68.20" stroke="#f4e4cc" stroke-width="0.4" />
<circle cx="104.60" cy="68.20" r="1.0" fill="#e0a040"/>
<line x1="100.19" y1="66.95" x2="99.80" y2="70.20" stroke="#f4e4cc" stroke-width="0.4" />
<circle cx="99.80" cy="70.20" r="1.0" fill="#e0a040"/>
<circle cx="97.80" cy="62.60" r="0.75" fill="#f0b848"/>
<circle cx="103.00" cy="67.40" r="0.75" fill="#f0b848"/>
<circle cx="103.20" cy="62.80" r="0.75" fill="#f0b848"/>
<circle cx="98.00" cy="67.80" r="0.75" fill="#f0b848"/>
<rect x="99.60" y="62.20" width="1.6" height="6.0" rx="0.7" fill="#f8dcc0" fill-opacity="0.8" stroke="#e0a880" stroke-width="0.3" stroke-opacity="0.7"/>
<line x1="77.23" y1="74.29" x2="75.80" y2="71.30" stroke="#f4e4cc" stroke-width="0.4" />
<circle cx="75.80" cy="71.30" r="1.0" fill="#e0a040"/>
<line x1="78.84" y1="74.29" x2="80.40" y2="71.30" stroke="#f4e4cc" stroke-width="0.4" />
<circle cx="80.40" cy="71.30" r="1.0" fill="#e0a040"/>
<line x1="76.25" y1="75.48" x2="73.00" y2="74.70" stroke="#f4e4cc" stroke-width="0.4" />
<circle cx="73.00" cy="74.70" r="1.0" fill="#e0a040"/>
<line x1="79.82" y1="75.55" x2="83.20" y2="74.90" stroke="#f4e4cc" stroke-width="0.4" />
<circle cx="83.20" cy="74.90" r="1.0" fill="#e0a040"/>
<line x1="76.46" y1="76.81" x2="73.60" y2="78.50" stroke="#f4e4cc" stroke-width="0.4" />
<circle cx="73.60" cy="78.50" r="1.0" fill="#e0a040"/>
<line x1="79.47" y1="76.95" x2="82.20" y2="78.90" stroke="#f4e4cc" stroke-width="0.4" />
<circle cx="82.20" cy="78.90" r="1.0" fill="#e0a040"/>
<line x1="77.79" y1="77.65" x2="77.40" y2="80.90" stroke="#f4e4cc" stroke-width="0.4" />
<circle cx="77.40" cy="80.90" r="1.0" fill="#e0a040"/>
<circle cx="75.40" cy="73.30" r="0.75" fill="#f0b848"/>
<circle cx="80.60" cy="78.10" r="0.75" fill="#f0b848"/>
<circle cx="80.80" cy="73.50" r="0.75" fill="#f0b848"/>
<circle cx="75.60" cy="78.50" r="0.75" fill="#f0b848"/>
<rect x="77.20" y="72.90" width="1.6" height="6.0" rx="0.7" fill="#f0c8dc" fill-opacity="0.8" stroke="#c890b0" stroke-width="0.3" stroke-opacity="0.7"/>
<line x1="92.43" y1="74.29" x2="91.00" y2="71.30" stroke="#f4e4cc" stroke-width="0.4" />
<circle cx="91.00" cy="71.30" r="1.0" fill="#e0a040"/>
<line x1="94.04" y1="74.29" x2="95.60" y2="71.30" stroke="#f4e4cc" stroke-width="0.4" />
<circle cx="95.60" cy="71.30" r="1.0" fill="#e0a040"/>
<line x1="91.45" y1="75.48" x2="88.20" y2="74.70" stroke="#f4e4cc" stroke-width="0.4" />
<circle cx="88.20" cy="74.70" r="1.0" fill="#e0a040"/>
<line x1="95.02" y1="75.55" x2="98.40" y2="74.90" stroke="#f4e4cc" stroke-width="0.4" />
<circle cx="98.40" cy="74.90" r="1.0" fill="#e0a040"/>
<line x1="91.66" y1="76.81" x2="88.80" y2="78.50" stroke="#f4e4cc" stroke-width="0.4" />
<circle cx="88.80" cy="78.50" r="1.0" fill="#e0a040"/>
<line x1="94.67" y1="76.95" x2="97.40" y2="78.90" stroke="#f4e4cc" stroke-width="0.4" />
<circle cx="97.40" cy="78.90" r="1.0" fill="#e0a040"/>
<line x1="92.99" y1="77.65" x2="92.60" y2="80.90" stroke="#f4e4cc" stroke-width="0.4" />
<circle cx="92.60" cy="80.90" r="1.0" fill="#e0a040"/>
<circle cx="90.60" cy="73.30" r="0.75" fill="#f0b848"/>
<circle cx="95.80" cy="78.10" r="0.75" fill="#f0b848"/>
<circle cx="96.00" cy="73.50" r="0.75" fill="#f0b848"/>
<circle cx="90.80" cy="78.50" r="0.75" fill="#f0b848"/>
<rect x="92.40" y="72.90" width="1.6" height="6.0" rx="0.7" fill="#d8e8a8" fill-opacity="0.8" stroke="#a0b868" stroke-width="0.3" stroke-opacity="0.7"/>
<text x="342.5" y="22" font-size="8.4" fill="#222" stroke="#222" stroke-width="0.06" textLength="56.5" lengthAdjust="spacingAndGlyphs" >CRISPR Screens</text>
<text x="356" y="29.5" font-size="5.6" fill="#b5b5b5" stroke="#b5b5b5" stroke-width="0.06" textLength="30" lengthAdjust="spacingAndGlyphs" >Bortezomib</text>
<text x="309" y="42.5" font-size="7.4" fill="#222" stroke="#222" stroke-width="0.06" text-anchor="middle" >U266 cells</text>
<rect x="263" y="47.3" width="92.39999999999998" height="91.2" fill="none" stroke="#1a1a1a" stroke-width="1.2"/>
<line x1="260.00" y1="47.40" x2="263.00" y2="47.40" stroke="#222" stroke-width="0.8" />
<text x="257.5" y="49.4" font-size="5.8" fill="#333" stroke="#333" stroke-width="0.06" text-anchor="end" >1</text>
<line x1="260.00" y1="70.20" x2="263.00" y2="70.20" stroke="#222" stroke-width="0.8" />
<text x="257.5" y="72.2" font-size="5.8" fill="#333" stroke="#333" stroke-width="0.06" text-anchor="end" >0.5</text>
<line x1="260.00" y1="93.00" x2="263.00" y2="93.00" stroke="#222" stroke-width="0.8" />
<text x="257.5" y="95.0" font-size="5.8" fill="#333" stroke="#333" stroke-width="0.06" text-anchor="end" >0</text>
<line x1="260.00" y1="115.80" x2="263.00" y2="115.80" stroke="#222" stroke-width="0.8" />
<text x="257.5" y="117.8" font-size="5.8" fill="#333" stroke="#333" stroke-width="0.06" text-anchor="end" >−0.5</text>
<line x1="260.00" y1="138.60" x2="263.00" y2="138.60" stroke="#222" stroke-width="0.8" />
<text x="257.5" y="140.6" font-size="5.8" fill="#333" stroke="#333" stroke-width="0.06" text-anchor="end" >−1</text>
<defs><linearGradient id="bg263" x1="0" y1="0" x2="0" y2="1"><stop offset="0%" stop-color="#c3c3c5" stop-opacity="0"/><stop offset="9.8%" stop-color="#c3c3c5" stop-opacity="0.2"/><stop offset="21.6%" stop-color="#c3c3c5" stop-opacity="0.55"/><stop offset="30.4%" stop-color="#c3c3c5" stop-opacity="1"/><stop offset="82.4%" stop-color="#c3c3c5" stop-opacity="1"/><stop offset="89.2%" stop-color="#c3c3c5" stop-opacity="0.55"/><stop offset="95.1%" stop-color="#c3c3c5" stop-opacity="0.2"/><stop offset="100%" stop-color="#c3c3c5" stop-opacity="0"/></linearGradient></defs>
<rect x="262.4" y="63.0" width="93.59999999999998" height="51.0" fill="url(#bg263)"/>
<path fill="none" stroke="#c6c6c8" stroke-opacity="0.55" stroke-width="2" stroke-linecap="round" d="M344.4 75.5h0M332.4 76.5h0M326.5 70.4h0M279.8 68.0h0M353.1 68.7h0M283.7 70.4h0M316.6 74.3h0M344.7 72.7h0M287.5 78.3h0M305.2 76.6h0M338.0 75.8h0M279.3 76.5h0M304.4 72.1h0M288.1 76.3h0M327.8 76.0h0M316.7 74.6h0M333.8 71.8h0M331.1 74.6h0M342.7 74.3h0M280.4 70.7h0M346.3 66.6h0M288.4 74.4h0M323.0 77.3h0M321.5 76.3h0M293.4 77.0h0M275.4 76.8h0M331.4 76.7h0M318.7 75.0h0M279.1 70.0h0M341.1 66.3h0M272.3 75.6h0M307.6 78.0h0M273.2 77.1h0M288.8 70.9h0M344.5 74.5h0M276.6 71.7h0M308.8 78.4h0M324.3 76.8h0M305.8 68.0h0M287.2 67.9h0M264.1 73.1h0M317.5 69.7h0M333.0 78.1h0M315.9 77.4h0M337.6 71.4h0M307.5 74.8h0M271.5 74.1h0M312.0 74.6h0M284.4 77.4h0M353.9 74.0h0M323.3 72.1h0M266.1 77.4h0M342.2 77.5h0M346.0 78.2h0M334.2 69.1h0M283.0 76.3h0M268.0 75.0h0M290.8 73.2h0M269.4 77.6h0M307.5 73.2h0M277.8 77.5h0M339.2 70.8h0M264.7 72.2h0M323.3 76.0h0M322.5 77.1h0M322.8 71.7h0M312.6 75.2h0M289.5 75.2h0M341.3 77.8h0M293.7 72.7h0M299.9 71.4h0M308.0 77.1h0M264.5 70.1h0M277.3 71.1h0M272.2 67.0h0M287.0 64.9h0M299.3 73.7h0M288.1 77.7h0M351.0 77.4h0M292.0 75.0h0M278.1 75.8h0M323.4 71.5h0M342.3 72.9h0M296.0 75.1h0M336.9 76.9h0M306.3 70.8h0M295.6 76.9h0M286.4 78.2h0M329.3 74.4h0M281.1 71.6h0M298.8 70.4h0M313.1 72.1h0M292.4 72.1h0M276.5 68.8h0M279.8 75.3h0M335.1 71.6h0M267.1 76.9h0M303.0 72.7h0M280.1 71.7h0M263.8 75.4h0M338.1 77.6h0M346.9 73.2h0M266.9 74.2h0M347.0 74.1h0M271.7 77.9h0M274.2 74.7h0M293.7 77.7h0M303.2 65.8h0M323.9 75.8h0M288.6 66.5h0M303.4 70.1h0M352.2 65.6h0M289.8 74.6h0M299.3 78.1h0M349.7 75.7h0M324.5 70.2h0M268.2 77.5h0M332.6 67.7h0M283.8 77.8h0M286.5 71.4h0M327.0 77.2h0M322.9 77.7h0M282.8 73.2h0M264.6 75.5h0M318.1 71.6h0M355.6 77.4h0M296.6 65.9h0M270.8 77.8h0M327.6 76.7h0M321.8 77.5h0M312.5 68.9h0M288.9 74.3h0M327.4 75.4h0M283.3 74.3h0M281.5 75.4h0M354.4 74.3h0M351.5 70.5h0M354.7 62.5h0M341.5 73.7h0M313.6 75.0h0M299.6 76.0h0M321.2 72.0h0M316.6 73.9h0M315.7 76.5h0M311.7 67.9h0M337.3 74.6h0M266.0 75.4h0M343.4 72.0h0M302.3 75.3h0M332.3 71.9h0M338.5 76.3h0M318.7 72.9h0M295.8 73.6h0M320.7 70.3h0M346.3 68.3h0M297.9 75.6h0M312.8 72.4h0M319.5 74.2h0M321.2 71.1h0M307.0 68.2h0M303.6 64.6h0M270.6 78.1h0M305.5 74.1h0M350.4 76.9h0M300.3 67.8h0M355.6 73.1h0M280.2 73.2h0M330.6 74.5h0M325.8 110.3h0M322.4 107.3h0M331.0 107.8h0M335.0 111.1h0M347.2 107.6h0M353.8 112.1h0M297.0 111.4h0M282.3 113.2h0M350.0 106.0h0M278.9 109.1h0M323.8 108.9h0M330.5 110.6h0M330.3 106.9h0M312.9 109.6h0M333.8 105.4h0M298.4 105.4h0M339.1 110.9h0M269.7 113.7h0M305.4 106.2h0M325.7 105.5h0M303.9 107.2h0M286.4 110.8h0M330.7 109.5h0M269.4 108.2h0M310.4 107.4h0M279.1 106.2h0M295.3 110.8h0M302.9 107.3h0M322.1 110.7h0M312.1 106.5h0M333.8 108.9h0M308.3 105.5h0M301.1 106.4h0M339.2 106.4h0M272.4 110.7h0M279.6 112.3h0M302.8 108.0h0M314.7 108.7h0M284.4 111.1h0M271.4 111.4h0M332.8 106.2h0M333.1 109.4h0M298.1 109.7h0M291.0 107.4h0M339.2 109.4h0M313.2 105.9h0M306.1 110.2h0M345.7 105.4h0M318.8 112.2h0M299.1 107.8h0M272.7 111.5h0M353.9 108.8h0M305.9 112.4h0M285.1 111.8h0M352.9 108.3h0M334.1 105.4h0M294.6 108.3h0M266.5 108.8h0M289.6 107.9h0M349.7 108.6h0M355.3 109.5h0M314.1 106.6h0M281.1 106.9h0M282.7 107.5h0M272.1 105.5h0M340.1 107.6h0M273.3 108.8h0M299.2 105.8h0M311.5 112.6h0M282.7 105.8h0M311.2 106.4h0M343.1 107.7h0M334.1 106.3h0M349.9 111.8h0M338.2 107.5h0M285.5 107.9h0M311.9 107.7h0M267.8 105.7h0M349.2 107.0h0M311.5 106.1h0M264.8 105.9h0M317.7 106.3h0M340.4 107.1h0M265.1 111.1h0M346.2 106.4h0M288.3 105.9h0M316.1 105.9h0M307.9 108.4h0M282.2 109.6h0M273.7 106.8h0M287.9 107.9h0M295.7 111.6h0M320.9 110.1h0M305.3 107.7h0M323.1 105.9h0M343.0 106.3h0M335.5 109.0h0M307.5 106.4h0M267.8 112.6h0M354.6 107.7h0M319.0 113.9h0M334.3 110.8h0M287.1 105.6h0M353.1 107.5h0M323.2 105.3h0M329.6 110.7h0M298.7 105.5h0M309.5 105.6h0M347.5 105.6h0M307.8 109.1h0M324.8 105.6h0M316.6 110.5h0M343.7 106.5h0M278.4 111.9h0M287.4 124.3h0M296.3 71.8h0M282.2 91.7h0M346.4 71.2h0M278.7 79.7h0M306.0 112.8h0M275.1 123.5h0M333.7 82.1h0M292.9 86.5h0"/>
<path fill="none" stroke="#c6c6c8" stroke-opacity="0.55" stroke-width="2" stroke-linecap="round" d="M352.7 77.9h0M294.7 68.2h0M335.1 77.8h0M275.8 71.9h0M279.6 78.3h0M343.2 73.6h0M332.9 76.1h0M350.0 74.8h0M297.3 77.7h0M284.9 73.7h0M274.2 78.3h0M347.8 68.4h0M287.2 73.1h0M315.7 67.4h0M284.3 76.4h0M318.4 76.2h0M328.7 78.0h0M315.5 71.1h0M301.8 76.5h0M324.7 76.5h0M323.4 73.2h0M349.8 77.4h0M306.4 69.5h0M316.6 71.9h0M264.5 72.4h0M326.8 76.0h0M303.4 73.6h0M274.4 78.4h0M322.3 78.4h0M318.7 78.2h0M299.4 77.0h0M283.6 76.3h0M341.5 76.9h0M354.5 76.0h0M344.5 75.8h0M354.0 77.8h0M355.5 74.2h0M336.1 75.1h0M297.6 73.4h0M345.3 71.4h0M331.3 74.0h0M340.0 68.4h0M341.5 74.5h0M333.9 69.0h0M303.8 77.2h0M281.4 74.6h0M342.4 73.2h0M271.7 77.1h0M348.6 70.7h0M278.0 72.9h0M317.8 77.7h0M290.1 76.6h0M351.3 72.1h0M282.7 77.3h0M278.9 78.4h0M282.0 73.4h0M268.5 76.9h0M347.3 64.3h0M326.8 71.3h0M291.2 71.9h0M339.4 77.8h0M321.5 71.8h0M334.5 77.5h0M342.4 74.8h0M352.1 76.7h0M345.7 77.4h0M286.6 62.7h0M304.6 69.5h0M305.5 68.9h0M284.7 76.9h0M281.6 76.3h0M291.2 71.3h0M326.1 70.0h0M327.4 76.9h0M304.4 71.4h0M327.6 73.8h0M278.7 74.9h0M308.1 75.6h0M283.0 72.6h0M304.2 68.6h0M355.6 78.2h0M266.0 76.5h0M267.2 67.7h0M266.1 73.9h0M317.3 76.4h0M327.1 77.4h0M338.2 76.7h0M319.4 75.0h0M265.3 73.9h0M271.1 73.9h0M343.6 66.4h0M312.1 72.8h0M350.8 65.0h0M350.2 77.7h0M278.9 71.2h0M300.8 77.0h0M283.5 74.3h0M322.8 78.0h0M333.7 77.1h0M323.1 74.7h0M328.8 73.6h0M301.1 77.9h0M271.7 72.5h0M349.3 65.7h0M334.2 76.9h0M297.0 75.7h0M341.1 73.0h0M298.6 77.0h0M326.8 72.7h0M282.3 68.8h0M354.9 72.0h0M269.2 74.8h0M353.5 75.3h0M299.1 73.3h0M285.2 69.8h0M349.4 73.3h0M272.5 66.7h0M290.8 74.5h0M267.2 72.4h0M298.7 76.8h0M299.5 76.9h0M294.6 64.4h0M308.8 78.1h0M276.5 70.9h0M283.7 75.2h0M275.3 74.8h0M336.4 75.2h0M270.2 76.7h0M348.0 76.3h0M285.5 74.1h0M269.2 69.9h0M278.4 75.4h0M298.2 71.4h0M281.9 77.4h0M289.8 72.2h0M293.1 74.7h0M350.2 75.9h0M305.2 69.0h0M331.6 72.5h0M327.5 70.9h0M344.8 74.9h0M275.8 72.7h0M340.3 71.3h0M268.2 77.8h0M272.6 76.4h0M269.7 78.0h0M277.1 67.4h0M346.3 64.2h0M335.5 74.5h0M267.6 77.5h0M274.2 74.2h0M333.3 78.0h0M341.8 76.5h0M336.5 73.7h0M334.5 74.8h0M329.5 77.6h0M327.0 72.3h0M322.5 73.5h0M337.9 61.8h0M347.1 75.1h0M322.7 70.0h0M323.7 65.2h0M301.7 73.4h0M319.7 69.7h0M310.9 76.1h0M350.3 71.7h0M299.7 74.5h0M335.8 76.4h0M330.0 78.0h0M354.8 69.4h0M327.0 65.6h0M338.4 78.1h0M314.0 108.0h0M269.1 108.3h0M335.5 109.1h0M284.7 105.6h0M340.9 105.9h0M355.7 110.5h0M272.7 105.5h0M346.9 106.2h0M289.7 113.0h0M333.8 109.8h0M308.1 106.3h0M276.5 110.1h0M282.8 106.6h0M316.0 109.5h0M334.9 105.7h0M296.2 115.6h0M276.8 105.5h0M349.0 110.4h0M277.6 107.5h0M274.1 105.6h0M318.4 111.2h0M285.1 105.8h0M347.3 109.9h0M340.8 106.8h0M286.8 107.1h0M310.5 108.7h0M304.4 105.4h0M293.7 107.3h0M338.3 107.7h0M284.9 107.9h0M289.9 106.2h0M305.9 108.5h0M307.4 107.8h0M326.5 112.1h0M342.6 109.4h0M325.3 107.1h0M351.0 106.4h0M330.3 106.6h0M298.2 106.6h0M311.0 106.3h0M303.9 105.7h0M353.7 106.3h0M300.1 107.2h0M308.1 109.9h0M345.5 106.9h0M292.6 105.3h0M348.7 105.4h0M283.8 108.5h0M279.0 107.3h0M286.8 108.2h0M302.0 108.6h0M281.9 107.7h0M317.4 107.7h0M349.6 107.1h0M313.6 110.7h0M299.6 110.4h0M267.1 108.4h0M300.9 108.0h0M300.7 111.1h0M287.0 109.0h0M355.8 107.7h0M319.4 108.3h0M308.1 105.5h0M292.6 111.5h0M266.6 110.5h0M327.7 107.0h0M353.4 105.9h0M272.1 105.9h0M268.5 107.6h0M306.3 106.0h0M278.5 109.7h0M339.2 109.0h0M265.6 106.6h0M337.3 105.3h0M329.2 107.6h0M322.4 109.0h0M295.5 113.7h0M314.1 109.3h0M338.5 106.8h0M308.3 109.2h0M285.2 106.0h0M353.2 109.9h0M323.2 108.6h0M293.4 111.2h0M303.4 106.8h0M312.0 106.5h0M288.3 109.8h0M263.9 108.2h0M350.2 109.1h0M300.5 113.5h0M332.1 105.4h0M322.1 105.9h0M325.8 106.3h0M264.8 109.6h0M308.9 105.5h0M338.3 107.8h0M324.7 109.0h0M348.9 88.8h0M325.5 111.7h0M337.4 107.6h0M317.3 101.5h0M345.5 109.3h0M352.2 63.2h0M280.3 119.4h0M285.8 80.0h0M336.0 96.1h0M328.5 107.2h0M316.1 116.5h0M319.5 84.1h0M319.7 106.7h0M326.1 106.9h0M286.9 76.3h0M284.5 121.3h0M279.6 100.0h0M297.3 77.1h0M311.8 100.6h0"/>
<path fill="none" stroke="#c6c6c8" stroke-opacity="0.55" stroke-width="2" stroke-linecap="round" d="M304.4 77.9h0M320.6 74.3h0M322.8 73.1h0M336.3 74.7h0M306.3 77.3h0M332.1 74.4h0M352.7 75.7h0M288.7 75.3h0M266.6 77.7h0M302.8 77.2h0M297.7 75.5h0M310.3 72.8h0M349.3 77.0h0M304.7 76.9h0M328.6 76.2h0M349.8 76.3h0M348.4 72.4h0M302.4 62.4h0M300.1 78.0h0M290.1 72.5h0M336.1 78.2h0M264.6 76.3h0M341.9 76.1h0M318.5 76.9h0M340.1 71.7h0M309.7 75.3h0M292.0 73.1h0M339.5 73.9h0M279.0 73.6h0M269.9 75.0h0M330.3 78.4h0M344.6 77.8h0M340.1 75.0h0M334.9 77.9h0M318.4 77.5h0M287.0 75.7h0M338.3 63.0h0M330.7 72.8h0M318.0 74.9h0M294.1 70.1h0M296.0 78.4h0M296.4 76.6h0M320.0 78.2h0M272.3 75.2h0M332.0 75.6h0M288.1 78.3h0M281.4 75.5h0M280.9 77.9h0M304.5 76.4h0M326.9 76.1h0M280.7 78.2h0M285.9 70.4h0M295.2 74.8h0M349.6 76.9h0M317.9 77.5h0M330.0 77.6h0M317.9 78.3h0M307.3 77.1h0M347.6 75.7h0M270.4 76.3h0M274.4 77.3h0M322.3 78.3h0M299.3 77.1h0M326.2 71.3h0M350.2 74.7h0M266.3 74.0h0M299.6 70.5h0M298.1 78.3h0M272.7 74.1h0M336.4 70.0h0M343.7 69.8h0M286.5 75.2h0M304.4 72.0h0M333.2 69.7h0M319.4 78.1h0M316.5 76.1h0M316.5 77.4h0M330.6 77.5h0M263.6 73.0h0M280.9 77.0h0M348.1 77.9h0M310.0 73.7h0M341.1 78.3h0M311.6 76.9h0M281.5 69.0h0M275.7 76.0h0M306.6 75.3h0M328.3 69.4h0M296.3 75.2h0M352.5 73.4h0M269.7 77.6h0M285.7 69.2h0M339.5 75.9h0M294.8 74.7h0M332.0 66.6h0M315.7 75.8h0M267.2 77.6h0M296.3 74.6h0M340.7 75.9h0M299.1 72.7h0M328.5 72.7h0M283.4 78.1h0M321.5 72.1h0M269.1 71.6h0M302.2 74.2h0M345.3 75.9h0M306.9 71.9h0M354.5 72.0h0M276.3 74.7h0M307.2 66.0h0M283.2 71.6h0M306.1 73.1h0M322.4 77.2h0M307.3 72.7h0M292.9 74.6h0M353.8 65.6h0M265.5 77.8h0M310.0 68.9h0M284.9 77.3h0M335.9 77.7h0M332.0 64.9h0M293.7 74.8h0M324.7 72.6h0M354.0 64.1h0M319.2 77.3h0M284.4 68.2h0M342.3 75.3h0M346.6 77.6h0M325.0 73.0h0M296.8 76.9h0M280.8 76.2h0M296.8 76.9h0M350.9 73.9h0M326.9 78.0h0M319.9 66.4h0M277.0 75.6h0M287.3 75.1h0M346.6 76.4h0M297.1 73.8h0M264.6 71.2h0M334.2 75.3h0M324.9 76.7h0M346.8 77.1h0M307.1 75.6h0M352.5 72.2h0M295.5 74.1h0M316.7 78.2h0M321.8 77.4h0M300.6 76.0h0M329.6 73.6h0M266.9 75.6h0M292.1 71.9h0M316.1 78.0h0M267.7 68.9h0M349.0 75.9h0M277.7 69.3h0M292.2 75.5h0M313.1 75.9h0M278.0 70.4h0M317.1 76.2h0M265.4 111.5h0M264.8 116.6h0M354.5 107.3h0M346.9 105.6h0M321.9 105.6h0M308.8 106.6h0M333.4 107.2h0M324.6 107.5h0M352.2 106.2h0M282.7 105.7h0M289.0 107.4h0M313.2 108.2h0M280.8 110.3h0M292.7 107.7h0M293.1 108.5h0M300.4 105.6h0M329.8 107.4h0M338.2 109.0h0M312.4 105.8h0M307.6 111.1h0M324.9 109.6h0M328.3 105.8h0M316.2 111.9h0M280.0 106.0h0M350.5 107.2h0M311.4 110.2h0M277.0 110.4h0M315.5 106.9h0M294.2 107.3h0M298.9 106.4h0M271.3 109.5h0M339.8 107.3h0M283.3 109.0h0M313.4 109.1h0M327.7 108.5h0M276.1 109.2h0M275.3 107.2h0M323.4 108.0h0M272.9 107.3h0M343.4 105.9h0M347.3 108.3h0M288.5 111.8h0M314.4 106.6h0M274.2 107.7h0M297.1 109.7h0M325.0 107.3h0M311.0 105.9h0M321.3 108.8h0M285.8 106.3h0M342.9 107.0h0M331.1 108.6h0M279.1 107.3h0M296.6 110.3h0M338.3 109.6h0M280.6 115.9h0M287.0 106.2h0M347.7 107.1h0M320.2 110.6h0M321.2 108.9h0M270.9 106.1h0M309.7 107.9h0M316.5 108.4h0M342.1 108.2h0M280.1 107.1h0M309.8 107.1h0M306.9 109.5h0M266.4 106.7h0M339.9 108.3h0M319.7 106.0h0M281.4 107.7h0M271.5 105.4h0M354.5 109.1h0M281.7 107.5h0M345.1 105.3h0M316.4 107.7h0M300.4 112.6h0M293.3 111.5h0M354.4 108.3h0M330.3 108.9h0M331.0 106.3h0M322.8 110.2h0M278.4 110.9h0M286.9 108.3h0M309.0 112.1h0M324.4 111.0h0M354.0 107.0h0M331.0 110.1h0M292.6 106.2h0M328.1 106.4h0M266.9 111.6h0M326.7 122.3h0M264.8 85.7h0M349.6 111.7h0M303.2 102.0h0M326.5 71.8h0M330.5 116.1h0M332.3 114.0h0M298.5 79.0h0M310.7 98.7h0M344.9 87.5h0M346.7 121.8h0"/>
<text transform="translate(241.2,93.3) rotate(-90)" font-size="7.4" fill="#222" stroke="#222" stroke-width="0.12" text-anchor="middle" textLength="42" lengthAdjust="spacingAndGlyphs">MAGeCK β-score</text>
<text x="431" y="42.5" font-size="7.4" fill="#222" stroke="#222" stroke-width="0.06" text-anchor="middle" >JJN3 cells</text>
<rect x="385" y="47.3" width="92" height="91.2" fill="none" stroke="#1a1a1a" stroke-width="1.2"/>
<line x1="382.00" y1="47.40" x2="385.00" y2="47.40" stroke="#222" stroke-width="0.8" />
<text x="379.5" y="49.4" font-size="5.8" fill="#333" stroke="#333" stroke-width="0.06" text-anchor="end" >1</text>
<line x1="382.00" y1="70.20" x2="385.00" y2="70.20" stroke="#222" stroke-width="0.8" />
<text x="379.5" y="72.2" font-size="5.8" fill="#333" stroke="#333" stroke-width="0.06" text-anchor="end" >0.5</text>
<line x1="382.00" y1="93.00" x2="385.00" y2="93.00" stroke="#222" stroke-width="0.8" />
<text x="379.5" y="95.0" font-size="5.8" fill="#333" stroke="#333" stroke-width="0.06" text-anchor="end" >0</text>
<line x1="382.00" y1="115.80" x2="385.00" y2="115.80" stroke="#222" stroke-width="0.8" />
<text x="379.5" y="117.8" font-size="5.8" fill="#333" stroke="#333" stroke-width="0.06" text-anchor="end" >−0.5</text>
<line x1="382.00" y1="138.60" x2="385.00" y2="138.60" stroke="#222" stroke-width="0.8" />
<text x="379.5" y="140.6" font-size="5.8" fill="#333" stroke="#333" stroke-width="0.06" text-anchor="end" >−1</text>
<defs><linearGradient id="bg385" x1="0" y1="0" x2="0" y2="1"><stop offset="0%" stop-color="#c3c3c5" stop-opacity="0"/><stop offset="9.8%" stop-color="#c3c3c5" stop-opacity="0.2"/><stop offset="21.6%" stop-color="#c3c3c5" stop-opacity="0.55"/><stop offset="30.4%" stop-color="#c3c3c5" stop-opacity="1"/><stop offset="82.4%" stop-color="#c3c3c5" stop-opacity="1"/><stop offset="89.2%" stop-color="#c3c3c5" stop-opacity="0.55"/><stop offset="95.1%" stop-color="#c3c3c5" stop-opacity="0.2"/><stop offset="100%" stop-color="#c3c3c5" stop-opacity="0"/></linearGradient></defs>
<rect x="384.4" y="63.0" width="93.2" height="51.0" fill="url(#bg385)"/>
<path fill="none" stroke="#c6c6c8" stroke-opacity="0.55" stroke-width="2" stroke-linecap="round" d="M469.3 73.3h0M464.3 78.0h0M421.0 68.4h0M433.9 74.9h0M388.7 74.9h0M420.7 74.7h0M466.8 67.0h0M462.6 75.3h0M431.9 70.2h0M404.5 73.7h0M460.5 74.5h0M430.3 76.2h0M414.9 65.2h0M389.0 78.2h0M426.4 75.0h0M473.0 69.8h0M441.2 76.2h0M454.5 71.4h0M420.3 71.6h0M434.2 75.1h0M404.9 66.6h0M472.4 74.0h0M430.6 74.2h0M386.3 69.9h0M422.5 76.8h0M451.5 70.9h0M409.7 61.7h0M411.4 74.8h0M444.0 71.4h0M457.7 75.1h0M412.3 63.6h0M446.8 76.0h0M389.5 77.7h0M446.8 73.1h0M399.7 71.6h0M443.0 74.2h0M429.9 76.5h0M463.0 72.3h0M471.9 71.0h0M424.8 70.9h0M444.0 74.8h0M464.5 67.9h0M389.8 75.5h0M387.6 70.9h0M397.4 71.4h0M465.9 72.4h0M471.8 72.0h0M445.4 73.7h0M398.6 76.0h0M408.3 77.5h0M405.6 78.2h0M393.0 76.7h0M472.2 75.7h0M427.1 70.8h0M387.2 73.1h0M441.0 77.5h0M391.0 73.0h0M430.7 70.7h0M395.2 75.7h0M402.1 75.4h0M464.5 77.3h0M432.8 67.8h0M444.3 75.1h0M472.9 75.6h0M388.5 78.0h0M442.0 67.7h0M402.1 71.0h0M469.9 68.5h0M458.2 77.2h0M420.4 78.4h0M402.5 73.3h0M463.5 71.9h0M471.4 71.1h0M442.8 77.7h0M476.0 76.1h0M438.9 71.4h0M460.8 76.5h0M416.4 73.7h0M390.8 74.0h0M415.9 78.3h0M416.4 66.8h0M439.4 74.0h0M404.4 74.6h0M394.8 75.3h0M427.8 71.6h0M461.5 76.9h0M390.7 78.4h0M418.2 77.4h0M449.6 78.1h0M450.9 72.7h0M397.9 77.8h0M432.6 71.8h0M465.9 73.0h0M469.0 76.9h0M432.8 78.0h0M401.3 70.4h0M438.4 73.6h0M457.7 75.9h0M418.8 74.3h0M408.5 70.1h0M443.5 70.2h0M402.0 75.0h0M400.8 64.2h0M387.2 74.8h0M433.8 72.5h0M425.6 75.7h0M406.2 71.8h0M394.8 73.0h0M436.5 72.8h0M386.9 76.5h0M414.1 76.9h0M397.9 73.0h0M421.1 72.7h0M406.2 69.0h0M438.4 77.7h0M414.2 75.6h0M464.6 75.8h0M461.2 77.6h0M471.0 74.8h0M474.2 73.1h0M432.0 76.6h0M462.8 74.3h0M421.2 63.7h0M417.3 71.1h0M462.8 71.0h0M474.7 63.0h0M388.1 76.5h0M461.5 76.8h0M448.5 77.2h0M401.7 75.8h0M425.6 70.5h0M393.5 76.2h0M406.3 75.4h0M475.3 68.4h0M394.8 76.7h0M404.2 76.5h0M393.8 61.9h0M405.5 74.5h0M448.4 73.9h0M391.9 73.8h0M431.2 72.7h0M395.0 73.1h0M423.2 77.6h0M468.5 77.3h0M438.1 70.9h0M465.1 71.3h0M470.7 71.4h0M399.0 77.8h0M421.3 68.6h0M454.2 73.6h0M450.8 65.5h0M409.5 78.3h0M397.7 77.9h0M401.0 73.2h0M422.2 76.3h0M467.9 76.9h0M449.3 76.3h0M421.8 76.0h0M475.0 75.0h0M431.8 78.2h0M425.2 77.1h0M406.7 69.1h0M429.1 72.4h0M476.8 75.6h0M396.7 66.6h0M403.0 76.2h0M426.3 74.7h0M439.1 73.3h0M396.3 72.7h0M392.1 72.4h0M446.2 74.8h0M464.5 77.7h0M473.2 72.5h0M429.7 73.3h0M457.7 70.9h0M452.6 71.5h0M422.5 77.3h0M435.5 61.1h0M451.0 108.0h0M392.5 106.6h0M434.4 105.7h0M422.9 109.4h0M412.5 110.5h0M451.6 109.4h0M463.4 105.6h0M429.9 106.8h0M419.4 107.8h0M388.9 106.3h0M401.8 111.8h0M458.1 106.2h0M417.3 106.0h0M427.7 106.8h0M447.3 105.6h0M423.5 107.8h0M469.0 106.6h0M398.1 107.6h0M476.9 105.4h0M424.3 105.8h0M448.0 112.4h0M389.1 106.0h0M394.6 106.9h0M407.3 105.8h0M406.8 113.1h0M429.3 106.6h0M387.0 113.1h0M436.2 108.9h0M427.0 108.1h0M385.6 108.9h0M443.3 105.4h0M449.5 106.9h0M447.1 105.7h0M451.1 109.8h0M468.0 106.8h0M433.4 108.2h0M434.3 108.8h0M446.8 114.9h0M459.6 107.1h0M439.7 106.9h0M465.4 111.9h0M411.5 106.2h0M471.2 111.8h0M477.2 106.0h0M476.4 110.6h0M414.0 105.4h0M445.8 106.7h0M436.6 105.8h0M404.0 108.5h0M477.4 113.3h0M407.4 106.2h0M477.1 106.8h0M440.9 105.8h0M397.6 111.8h0M407.6 106.7h0M409.1 105.6h0M402.6 105.3h0M439.3 106.4h0M390.1 105.7h0M408.8 105.8h0M426.1 106.3h0M438.7 110.8h0M405.0 108.9h0M420.6 105.5h0M443.1 110.0h0M424.2 109.7h0M466.9 107.9h0M443.0 106.5h0M445.7 107.1h0M473.2 113.9h0M461.9 105.8h0M402.5 106.0h0M471.1 106.5h0M394.9 107.3h0M438.4 108.3h0M452.4 108.3h0M447.1 111.3h0M465.7 111.2h0M431.9 105.6h0M434.1 109.6h0M457.7 106.3h0M469.8 105.5h0M447.1 106.6h0M433.4 107.8h0M472.4 110.8h0M435.1 107.1h0M394.6 110.6h0M453.6 106.6h0M442.5 88.5h0M452.9 84.9h0M431.0 91.1h0M409.7 122.8h0M431.2 75.7h0M469.2 73.9h0M454.0 123.0h0M390.1 76.7h0M391.5 62.7h0M395.4 73.6h0M441.1 85.3h0M387.8 76.7h0M463.4 101.4h0M425.7 67.4h0M457.9 91.3h0M475.9 109.6h0M437.2 123.5h0"/>
<path fill="none" stroke="#c6c6c8" stroke-opacity="0.55" stroke-width="2" stroke-linecap="round" d="M421.9 69.2h0M387.0 73.8h0M394.9 67.7h0M412.3 78.2h0M422.5 75.3h0M445.1 75.2h0M470.7 75.2h0M441.9 77.6h0M416.6 77.8h0M418.6 75.7h0M388.7 75.4h0M406.8 77.9h0M403.7 78.1h0M405.2 72.9h0M389.2 73.1h0M470.2 70.9h0M451.6 69.0h0M457.8 73.5h0M434.1 76.7h0M413.9 73.0h0M414.5 75.8h0M408.2 67.0h0M416.6 75.3h0M464.3 67.5h0M465.3 72.8h0M455.7 75.2h0M420.2 77.2h0M419.3 75.8h0M415.3 78.2h0M420.0 68.2h0M432.1 69.4h0M440.2 72.5h0M434.6 71.9h0M457.1 68.3h0M446.2 77.5h0M403.2 71.3h0M394.6 73.6h0M386.7 75.6h0M455.1 72.0h0M430.2 67.4h0M466.9 77.3h0M396.6 76.0h0M443.4 75.3h0M389.3 75.4h0M475.2 76.1h0M439.9 70.0h0M396.6 72.5h0M409.5 74.5h0M420.3 77.5h0M424.9 73.9h0M386.6 73.5h0M403.6 75.8h0M408.5 78.0h0M453.3 75.8h0M419.1 71.4h0M432.7 74.7h0M437.2 77.6h0M447.7 72.5h0M420.1 75.7h0M457.3 71.1h0M452.3 70.1h0M425.8 74.0h0M474.3 70.0h0M398.6 77.8h0M462.6 72.2h0M476.7 72.1h0M405.3 75.1h0M405.0 74.7h0M415.4 75.7h0M398.3 78.3h0M471.8 67.5h0M403.5 76.4h0M428.6 72.4h0M444.9 69.8h0M424.8 69.4h0M470.0 76.1h0M444.0 74.7h0M399.6 74.2h0M405.4 75.7h0M406.0 73.7h0M436.1 73.2h0M399.7 77.4h0M449.3 75.7h0M427.2 70.9h0M448.1 72.5h0M437.5 65.3h0M439.7 71.9h0M413.0 76.6h0M439.6 78.2h0M411.7 74.5h0M421.4 73.3h0M476.5 72.5h0M465.4 75.8h0M439.3 76.3h0M466.5 77.6h0M456.8 74.6h0M421.6 75.9h0M451.2 71.5h0M420.7 76.5h0M466.0 74.1h0M400.7 78.1h0M473.5 77.7h0M474.3 77.9h0M432.4 76.6h0M406.4 78.0h0M454.1 73.8h0M457.2 67.1h0M440.0 76.3h0M410.0 73.3h0M397.5 74.1h0M441.1 76.6h0M447.3 65.2h0M454.9 75.8h0M453.9 76.3h0M450.4 72.7h0M468.3 78.2h0M387.9 76.9h0M449.0 77.0h0M397.5 75.6h0M410.7 72.2h0M443.0 73.1h0M454.3 74.2h0M412.8 67.6h0M443.9 76.2h0M440.9 72.1h0M464.5 78.0h0M456.6 73.5h0M430.1 78.3h0M440.8 74.7h0M442.6 75.0h0M463.5 65.2h0M447.0 78.4h0M414.0 76.1h0M429.2 77.5h0M400.7 74.6h0M424.3 75.4h0M428.3 72.1h0M432.7 78.3h0M414.4 74.5h0M474.9 72.9h0M415.8 67.8h0M410.4 76.5h0M468.6 70.6h0M452.2 78.0h0M397.7 71.6h0M453.0 67.8h0M442.2 75.4h0M388.1 70.5h0M407.9 72.1h0M450.6 74.1h0M448.0 74.6h0M458.6 77.3h0M435.2 76.5h0M386.5 68.8h0M444.9 68.9h0M439.9 77.3h0M447.8 73.6h0M389.4 72.1h0M403.9 68.8h0M466.4 69.5h0M468.6 70.7h0M473.4 107.4h0M430.4 108.7h0M475.6 105.4h0M473.7 106.8h0M469.9 107.8h0M397.1 107.5h0M472.7 105.4h0M403.3 105.4h0M401.4 107.1h0M397.1 106.7h0M457.0 106.4h0M388.3 105.9h0M472.5 109.8h0M476.8 112.6h0M463.9 108.4h0M461.3 111.5h0M422.4 110.2h0M458.6 105.7h0M422.9 106.5h0M425.0 107.2h0M396.5 108.8h0M457.2 106.3h0M427.1 106.1h0M457.2 106.1h0M428.4 105.3h0M394.7 110.0h0M476.7 107.2h0M388.3 106.0h0M471.7 105.7h0M474.3 106.0h0M402.0 111.3h0M432.9 110.7h0M432.9 105.5h0M450.4 105.9h0M441.4 110.9h0M410.7 109.7h0M397.7 109.3h0M408.1 105.7h0M400.3 108.2h0M409.8 109.6h0M398.9 114.4h0M426.2 106.8h0M466.0 107.1h0M431.0 110.4h0M429.7 110.1h0M436.3 110.8h0M439.0 106.1h0M428.1 107.7h0M411.8 106.8h0M428.7 106.6h0M446.9 109.9h0M420.8 105.9h0M461.4 105.6h0M412.4 108.4h0M415.0 108.7h0M441.2 107.0h0M452.3 107.3h0M423.5 109.3h0M386.5 106.9h0M446.8 107.9h0M399.5 108.7h0M412.4 107.4h0M418.1 106.0h0M455.8 107.6h0M473.5 105.9h0M401.7 111.5h0M404.2 106.3h0M406.5 106.6h0M466.5 107.4h0M406.1 107.7h0M469.0 105.6h0M426.9 109.9h0M438.0 109.0h0M424.1 108.4h0M444.6 108.7h0M463.7 107.5h0M395.8 106.1h0M468.5 108.7h0M449.0 107.5h0M440.3 107.3h0M397.6 106.7h0M388.4 105.7h0M470.7 106.3h0M416.9 107.1h0M457.0 108.0h0M394.4 107.0h0M456.0 105.7h0M408.5 105.7h0M426.1 111.9h0M397.9 109.5h0M407.6 109.1h0M469.8 107.7h0M394.9 108.2h0M392.2 107.9h0M476.4 106.1h0M440.1 111.5h0M405.9 111.1h0M387.5 106.6h0M424.9 109.0h0M391.6 106.3h0M466.4 106.8h0M385.8 106.4h0M422.2 113.7h0M405.0 110.5h0M465.2 106.1h0M417.3 108.0h0M433.7 114.2h0M411.8 90.6h0M421.2 64.2h0M397.9 116.7h0M426.8 111.2h0M441.2 116.8h0M412.0 117.0h0M410.8 75.3h0M405.7 114.1h0M434.6 78.9h0M449.4 100.3h0M401.8 83.5h0M476.9 124.1h0M402.4 113.3h0"/>
<path fill="none" stroke="#c6c6c8" stroke-opacity="0.55" stroke-width="2" stroke-linecap="round" d="M458.9 76.9h0M387.1 70.7h0M385.6 69.4h0M452.8 68.6h0M411.2 77.9h0M457.9 70.0h0M470.8 61.3h0M416.2 72.6h0M399.0 77.3h0M403.4 72.1h0M391.2 75.7h0M427.4 63.7h0M426.1 75.3h0M431.2 72.1h0M419.3 70.6h0M471.0 77.7h0M425.2 76.8h0M439.9 74.0h0M411.4 76.0h0M413.9 77.3h0M434.3 77.5h0M386.0 74.5h0M403.7 73.3h0M409.6 74.0h0M429.0 73.7h0M467.6 78.1h0M439.6 69.6h0M418.8 77.4h0M470.7 76.7h0M389.9 71.0h0M458.1 77.7h0M423.3 75.5h0M471.9 75.3h0M395.1 73.6h0M410.2 69.5h0M408.7 73.0h0M446.0 75.3h0M410.7 70.7h0M437.1 77.0h0M426.1 74.0h0M452.4 73.4h0M390.6 73.9h0M399.9 73.2h0M404.0 71.0h0M444.5 78.1h0M397.5 74.4h0M454.4 76.1h0M422.9 70.5h0M386.3 76.5h0M417.7 74.1h0M399.8 75.6h0M450.4 71.1h0M447.4 77.0h0M386.0 71.8h0M431.4 77.9h0M437.6 76.7h0M392.1 77.5h0M387.5 72.7h0M429.5 76.3h0M463.4 76.4h0M395.0 77.5h0M446.0 72.5h0M434.0 73.9h0M460.2 75.4h0M473.0 70.6h0M409.9 71.5h0M443.6 75.9h0M450.7 75.6h0M468.3 77.1h0M470.7 76.9h0M406.2 68.8h0M437.6 76.7h0M394.3 74.9h0M400.6 73.8h0M467.8 76.0h0M465.5 73.1h0M386.8 74.6h0M396.6 75.6h0M407.8 69.2h0M387.1 71.8h0M385.9 77.0h0M475.8 76.5h0M394.5 73.5h0M406.5 76.2h0M403.7 76.9h0M420.4 72.8h0M451.3 77.5h0M430.3 70.0h0M450.2 75.7h0M419.4 72.6h0M469.2 74.3h0M437.0 75.1h0M475.0 72.8h0M467.3 69.8h0M464.9 77.9h0M445.6 71.1h0M401.9 78.1h0M445.5 74.3h0M444.3 74.4h0M469.6 69.2h0M420.0 74.5h0M422.7 67.0h0M422.2 75.0h0M473.8 75.4h0M414.5 75.9h0M454.5 76.9h0M475.8 67.8h0M424.6 69.9h0M456.8 75.0h0M435.5 78.1h0M430.5 72.3h0M408.3 67.7h0M439.0 63.3h0M471.0 68.1h0M417.1 76.7h0M458.6 76.2h0M424.6 72.9h0M467.6 76.8h0M414.2 70.7h0M414.4 75.3h0M432.9 77.5h0M402.3 76.5h0M470.9 78.0h0M444.6 70.4h0M419.8 76.1h0M406.3 77.4h0M428.6 76.3h0M417.8 73.9h0M446.2 73.1h0M457.7 73.7h0M415.6 76.6h0M400.2 70.6h0M418.1 76.4h0M458.7 78.0h0M393.9 74.6h0M462.2 76.2h0M413.3 71.8h0M405.3 77.9h0M393.1 76.7h0M430.8 75.7h0M393.0 68.9h0M434.0 66.5h0M400.8 66.3h0M403.0 73.1h0M468.0 72.8h0M409.4 78.1h0M477.0 73.0h0M472.7 70.0h0M387.1 69.5h0M463.3 78.2h0M454.5 69.5h0M434.7 74.3h0M422.7 71.3h0M396.8 73.5h0M416.1 61.1h0M413.0 75.1h0M403.7 76.5h0M414.6 75.1h0M435.7 70.7h0M467.7 76.3h0M451.9 75.9h0M407.2 110.1h0M422.2 106.2h0M411.3 107.8h0M423.9 111.8h0M427.9 107.1h0M388.1 111.2h0M472.3 112.1h0M442.0 106.1h0M390.1 105.9h0M441.2 110.1h0M459.7 105.6h0M431.3 117.9h0M421.1 113.6h0M450.3 107.6h0M469.3 107.4h0M463.0 110.9h0M408.8 112.9h0M443.1 107.7h0M460.7 105.7h0M404.7 106.4h0M433.9 111.4h0M472.6 110.3h0M427.9 105.4h0M440.9 107.1h0M452.0 110.2h0M390.0 112.3h0M476.2 106.7h0M397.5 106.7h0M394.2 109.5h0M425.2 107.8h0M429.6 105.9h0M414.1 106.3h0M392.6 111.7h0M443.5 106.5h0M476.2 112.6h0M445.8 107.3h0M398.2 105.8h0M390.5 110.4h0M470.0 113.7h0M429.0 107.2h0M447.6 107.4h0M396.8 108.0h0M414.7 108.2h0M453.6 106.7h0M435.7 109.9h0M440.0 106.7h0M420.7 108.9h0M418.8 109.3h0M449.1 107.8h0M462.7 106.1h0M474.2 106.6h0M409.3 106.2h0M468.1 106.4h0M446.4 108.7h0M477.4 110.4h0M401.5 107.7h0M422.8 106.3h0M466.2 106.7h0M468.4 112.9h0M457.9 110.7h0M386.7 107.5h0M409.0 109.6h0M419.4 112.3h0M414.9 111.0h0M430.7 109.6h0M421.6 115.6h0M450.1 107.2h0M463.9 107.4h0M469.9 107.2h0M468.3 110.3h0M429.9 106.8h0M395.6 105.5h0M412.2 109.9h0M425.0 109.4h0M452.4 107.2h0M431.6 105.7h0M396.1 111.0h0M469.1 115.0h0M428.2 107.8h0M473.8 110.0h0M454.3 107.2h0M462.2 111.3h0M471.0 108.1h0M435.1 107.2h0M426.4 111.0h0M445.9 110.3h0M405.2 109.1h0M464.1 108.6h0M452.9 109.4h0M411.2 105.9h0M471.7 107.0h0M406.8 106.6h0M453.4 112.1h0M453.1 109.8h0M442.8 107.7h0M411.9 111.7h0M404.3 105.7h0M399.8 112.8h0M391.6 106.8h0M450.9 110.1h0M399.0 108.5h0M467.5 107.1h0M402.0 106.2h0M425.3 105.9h0M474.1 106.6h0M453.8 109.8h0M471.7 62.1h0M427.4 89.2h0M433.8 61.2h0M426.6 73.3h0M447.6 101.8h0M471.5 102.7h0M466.2 106.0h0M439.8 100.8h0M392.6 62.5h0"/>
<defs><clipPath id="cpU"><rect x="263" y="47.3" width="92.4" height="91.2"/></clipPath><clipPath id="cpJ"><rect x="385" y="47.3" width="92" height="91.2"/></clipPath></defs>
<g clip-path="url(#cpU)">
<text x="263.9" y="54.6" font-size="6.6" fill="#d03a50" stroke="#d03a50" stroke-width="0.06" font-style="italic" textLength="16.1" lengthAdjust="spacingAndGlyphs" >AUP1</text>
<circle cx="269.7" cy="56.8" r="0.9" fill="#e09098"/>
<path d="M311.5,115.8 L314,118.5 M325.7,116.4 L333.5,121.2" stroke="#b0c8d0" stroke-width="0.5" fill="none"/>
<circle cx="325.7" cy="122.2" r="0.9" fill="none" stroke="#aaa" stroke-width="0.5"/>
<text x="304.8" y="123.8" font-size="6.8" fill="#6a4aa8" stroke="#6a4aa8" stroke-width="0.06" font-style="italic" textLength="16.5" lengthAdjust="spacingAndGlyphs" >MPC1</text>
<text x="333.7" y="125.9" font-size="6.8" fill="#3aa860" stroke="#3aa860" stroke-width="0.06" font-style="italic" textLength="24" lengthAdjust="spacingAndGlyphs" >PSMB8</text>
<text x="314.2" y="130.3" font-size="6.8" fill="#3aa860" stroke="#3aa860" stroke-width="0.06" font-style="italic" textLength="21" lengthAdjust="spacingAndGlyphs" >PSMB5</text>
<text x="295.4" y="132.6" font-size="6.8" fill="#3aa860" stroke="#3aa860" stroke-width="0.06" font-style="italic" textLength="14.6" lengthAdjust="spacingAndGlyphs" >IWS1</text>
</g><g clip-path="url(#cpJ)">
<text x="419.4" y="60.6" font-size="6.6" fill="#d84a40" stroke="#d84a40" stroke-width="0.06" font-style="italic" textLength="22.6" lengthAdjust="spacingAndGlyphs" >LYPLAL1</text>
<circle cx="430.5" cy="63" r="0.9" fill="#e09098"/>
<path d="M384.8,119.6 L390.6,123.8 M431,105.6 L438.7,117.1 M447.7,111.3 L449.2,121" stroke="#9ab8c0" stroke-width="0.5" fill="none"/>
<text x="389.6" y="127.7" font-size="6.6" fill="#3aa860" stroke="#3aa860" stroke-width="0.06" font-style="italic" textLength="22.5" lengthAdjust="spacingAndGlyphs" >ACSM3</text>
<text x="432.9" y="123.3" font-size="6.8" fill="#6a4aa8" stroke="#6a4aa8" stroke-width="0.06" font-style="italic" textLength="17" lengthAdjust="spacingAndGlyphs" >MPC1</text>
<text x="440" y="129.6" font-size="6.8" fill="#3aa860" stroke="#3aa860" stroke-width="0.06" font-style="italic" textLength="20.8" lengthAdjust="spacingAndGlyphs" >PSMG4</text>
</g>
<text x="62.7" y="184.5" font-size="8" fill="#222" stroke="#222" stroke-width="0.06" textLength="51.3" lengthAdjust="spacingAndGlyphs" >Sensitizing arm</text>
<text x="50" y="195.1" font-size="6.8" fill="#cc3a5a" stroke="#cc3a5a" stroke-width="0.06" textLength="17.9" lengthAdjust="spacingAndGlyphs" >U266</text>
<text x="49.6" y="202.6" font-size="5.8" fill="#cc3a5a" stroke="#cc3a5a" stroke-width="0.06" textLength="18.3" lengthAdjust="spacingAndGlyphs" >(1046)</text>
<text x="111.2" y="195.1" font-size="6.8" fill="#4a6aa8" stroke="#4a6aa8" stroke-width="0.06" textLength="16.3" lengthAdjust="spacingAndGlyphs" >JJN3</text>
<text x="110.2" y="202.6" font-size="5.8" fill="#4a6aa8" stroke="#4a6aa8" stroke-width="0.06" textLength="17.9" lengthAdjust="spacingAndGlyphs" >(1021)</text>
<circle cx="59.4" cy="245.6" r="38.3" fill="#e08f80"/>
<circle cx="117" cy="245.6" r="38.3" fill="#8f9bbb"/>
<path d="M88.3,214.6 A38.5,38.5 0 0 0 88.3,277 A38.5,38.5 0 0 0 88.3,214.6 Z" fill="#8c5c6a" stroke="#fff" stroke-width="2.6"/>
<text x="59.3" y="247.6" font-size="6.6" fill="#2a2a2a" stroke="#2a2a2a" stroke-width="0.15" text-anchor="middle" >971</text>
<text x="87.7" y="247.6" font-size="6.6" fill="#e8d8dc" stroke="#e8d8dc" stroke-width="0.06" text-anchor="middle" >75</text>
<text x="119.3" y="247.6" font-size="6.6" fill="#2a2a3a" stroke="#2a2a3a" stroke-width="0.15" text-anchor="middle" >946</text>
<text x="231.7" y="182" font-size="8.5" fill="#222" stroke="#222" stroke-width="0.06" textLength="79.3" lengthAdjust="spacingAndGlyphs" >Overlapping sensitizers</text>
<g fill="#d4d4d4" stroke="#a4a4a4" stroke-width="0.7"><circle cx="250.3" cy="187.9" r="1.15"/><circle cx="247.1" cy="214.9" r="1.15"/><circle cx="247.1" cy="219.6" r="1.15"/><circle cx="246.2" cy="224.3" r="1.15"/><circle cx="248.0" cy="228.0" r="1.15"/><circle cx="246.5" cy="229.9" r="1.15"/><circle cx="248.4" cy="231.7" r="1.15"/><circle cx="257.7" cy="228.9" r="1.15"/><circle cx="259.6" cy="229.9" r="1.15"/><circle cx="258.7" cy="232.7" r="1.15"/><circle cx="245.6" cy="238.3" r="1.15"/><circle cx="247.5" cy="241.1" r="1.15"/><circle cx="249.3" cy="242.9" r="1.15"/><circle cx="246.5" cy="243.9" r="1.15"/><circle cx="250.3" cy="245.7" r="1.15"/><circle cx="248.0" cy="247.6" r="1.15"/><circle cx="249.9" cy="248.5" r="1.15"/><circle cx="248.4" cy="251.3" r="1.15"/><circle cx="252.1" cy="252.3" r="1.15"/><circle cx="249.3" cy="254.1" r="1.15"/><circle cx="256.8" cy="255.1" r="1.15"/><circle cx="254.0" cy="249.5" r="1.15"/><circle cx="254.9" cy="242.0" r="1.15"/><circle cx="256.8" cy="241.1" r="1.15"/><circle cx="258.7" cy="240.1" r="1.15"/><circle cx="253.1" cy="238.3" r="1.15"/><circle cx="259.6" cy="235.5" r="1.15"/><circle cx="262.4" cy="231.7" r="1.15"/><circle cx="263.3" cy="249.5" r="1.15"/><circle cx="265.2" cy="252.3" r="1.15"/><circle cx="268.9" cy="242.0" r="1.15"/><circle cx="269.9" cy="247.6" r="1.15"/><circle cx="271.7" cy="246.7" r="1.15"/><circle cx="273.6" cy="251.3" r="1.15"/><circle cx="275.5" cy="242.0" r="1.15"/><circle cx="278.3" cy="242.0" r="1.15"/><circle cx="280.1" cy="248.5" r="1.15"/><circle cx="281.1" cy="242.0" r="1.15"/><circle cx="283.9" cy="242.0" r="1.15"/><circle cx="303.5" cy="245.4" r="1.15"/><circle cx="270.8" cy="251.7" r="1.15"/><circle cx="251.2" cy="242.0" r="1.15"/><circle cx="248.4" cy="239.2" r="1.15"/><circle cx="250.6" cy="250.4" r="1.15"/><circle cx="255.9" cy="245.7" r="1.15"/></g>
<rect x="227.9" y="187" width="85.9" height="85.8" fill="none" stroke="#1a1a1a" stroke-width="1.2"/>
<line x1="262.50" y1="187.00" x2="262.50" y2="272.80" stroke="#111" stroke-width="1.1" stroke-dasharray="1.3,1.7"/>
<line x1="227.90" y1="238.40" x2="313.80" y2="238.40" stroke="#111" stroke-width="1.1" stroke-dasharray="1.3,1.7"/>
<line x1="224.80" y1="272.80" x2="227.90" y2="272.80" stroke="#222" stroke-width="0.9" />
<text x="222.3" y="275.0" font-size="6.2" fill="#333" stroke="#333" stroke-width="0.06" text-anchor="end" >0.1</text>
<line x1="227.90" y1="272.80" x2="227.90" y2="275.80" stroke="#222" stroke-width="0.9" />
<text x="227.9" y="283.5" font-size="6.2" fill="#333" stroke="#333" stroke-width="0.06" text-anchor="middle" >0.1</text>
<line x1="224.80" y1="255.60" x2="227.90" y2="255.60" stroke="#222" stroke-width="0.9" />
<text x="222.3" y="257.8" font-size="6.2" fill="#333" stroke="#333" stroke-width="0.06" text-anchor="end" >0.2</text>
<line x1="245.08" y1="272.80" x2="245.08" y2="275.80" stroke="#222" stroke-width="0.9" />
<text x="245.08" y="283.5" font-size="6.2" fill="#333" stroke="#333" stroke-width="0.06" text-anchor="middle" >0.2</text>
<line x1="224.80" y1="238.40" x2="227.90" y2="238.40" stroke="#222" stroke-width="0.9" />
<text x="222.3" y="240.6" font-size="6.2" fill="#333" stroke="#333" stroke-width="0.06" text-anchor="end" >0.3</text>
<line x1="262.26" y1="272.80" x2="262.26" y2="275.80" stroke="#222" stroke-width="0.9" />
<text x="262.26" y="283.5" font-size="6.2" fill="#333" stroke="#333" stroke-width="0.06" text-anchor="middle" >0.3</text>
<line x1="224.80" y1="221.20" x2="227.90" y2="221.20" stroke="#222" stroke-width="0.9" />
<text x="222.3" y="223.39999999999998" font-size="6.2" fill="#333" stroke="#333" stroke-width="0.06" text-anchor="end" >0.4</text>
<line x1="279.44" y1="272.80" x2="279.44" y2="275.80" stroke="#222" stroke-width="0.9" />
<text x="279.44" y="283.5" font-size="6.2" fill="#333" stroke="#333" stroke-width="0.06" text-anchor="middle" >0.4</text>
<line x1="224.80" y1="204.00" x2="227.90" y2="204.00" stroke="#222" stroke-width="0.9" />
<text x="222.3" y="206.2" font-size="6.2" fill="#333" stroke="#333" stroke-width="0.06" text-anchor="end" >0.5</text>
<line x1="296.62" y1="272.80" x2="296.62" y2="275.80" stroke="#222" stroke-width="0.9" />
<text x="296.62" y="283.5" font-size="6.2" fill="#333" stroke="#333" stroke-width="0.06" text-anchor="middle" >0.5</text>
<line x1="224.80" y1="186.80" x2="227.90" y2="186.80" stroke="#222" stroke-width="0.9" />
<text x="222.3" y="189.0" font-size="6.2" fill="#333" stroke="#333" stroke-width="0.06" text-anchor="end" >0.6</text>
<line x1="313.80" y1="272.80" x2="313.80" y2="275.80" stroke="#222" stroke-width="0.9" />
<text x="313.8" y="283.5" font-size="6.2" fill="#333" stroke="#333" stroke-width="0.06" text-anchor="middle" >0.6</text>
<text x="271.5" y="295.8" font-size="7.2" fill="#222" stroke="#222" stroke-width="0.2" text-anchor="middle" textLength="13.2" lengthAdjust="spacingAndGlyphs" >JJN3</text>
<text transform="translate(207.6,229.7) rotate(-90)" font-size="7.2" fill="#222" stroke="#222" stroke-width="0.2" text-anchor="middle" textLength="12.2" lengthAdjust="spacingAndGlyphs">U266</text>
<circle cx="268" cy="194.4" r="1.15" fill="none" stroke="#5a4a9a" stroke-width="0.7"/>
<text x="271.5" y="196.6" font-size="6.1" fill="#5a4a9a" stroke="#5a4a9a" stroke-width="0.06" textLength="16" lengthAdjust="spacingAndGlyphs" >MPC1</text>
<circle cx="268.6" cy="205.6" r="1.15" fill="none" stroke="#62b062" stroke-width="0.7"/>
<text x="271.2" y="207.8" font-size="6.1" fill="#62b062" stroke="#62b062" stroke-width="0.06" font-style="italic" textLength="17" lengthAdjust="spacingAndGlyphs" >HINFP</text>
<circle cx="274.5" cy="219.2" r="1.15" fill="none" stroke="#62b062" stroke-width="0.7"/>
<text x="277.5" y="220.8" font-size="6.1" fill="#62b062" stroke="#62b062" stroke-width="0.06" font-style="italic" textLength="11.5" lengthAdjust="spacingAndGlyphs" >IRF4</text>
<text x="264.1" y="229.5" font-size="6.1" fill="#62b062" stroke="#62b062" stroke-width="0.06" font-style="italic" textLength="16.8" lengthAdjust="spacingAndGlyphs" >NAA15</text>
<text x="288.7" y="226.1" font-size="6.1" fill="#62b062" stroke="#62b062" stroke-width="0.06" font-style="italic" textLength="22.8" lengthAdjust="spacingAndGlyphs" >TMEM141</text>
<text x="291.4" y="234" font-size="6.1" fill="#62b062" stroke="#62b062" stroke-width="0.06" font-style="italic" textLength="21.2" lengthAdjust="spacingAndGlyphs" >ZNF101</text>
<text x="284.8" y="244.9" font-size="6.1" fill="#62b062" stroke="#62b062" stroke-width="0.06" font-style="italic" textLength="12.8" lengthAdjust="spacingAndGlyphs" >FEN1</text>
<circle cx="268.8" cy="235.6" r="1.15" fill="none" stroke="#62b062" stroke-width="0.7"/>
<circle cx="275" cy="235.6" r="1.15" fill="none" stroke="#62b062" stroke-width="0.7"/>
<circle cx="285.9" cy="235" r="1.15" fill="none" stroke="#62b062" stroke-width="0.7"/>
<circle cx="290.3" cy="238.4" r="1.15" fill="none" stroke="#62b062" stroke-width="0.7"/>
<circle cx="292.6" cy="238.2" r="1.15" fill="none" stroke="#62b062" stroke-width="0.7"/>
<path d="M273.3,230.8 Q275.8,232.5 275.3,235" fill="none" stroke="#62b062" stroke-width="0.5"/>
<path d="M287.5,222.8 L287.5,232.8 L286.2,234.4" fill="none" stroke="#62b062" stroke-width="0.5"/>
<text x="395.1" y="181.8" font-size="8.5" fill="#222" stroke="#222" stroke-width="0.06" textLength="66.7" lengthAdjust="spacingAndGlyphs" >Expression Profiling</text>
<text x="392.8" y="188.8" font-size="6" fill="#b5b5b5" stroke="#b5b5b5" stroke-width="0.06" textLength="71" lengthAdjust="spacingAndGlyphs" >Patients with MM (n = 821)</text>
<line x1="365.20" y1="190.00" x2="365.20" y2="256.90" stroke="#222" stroke-width="1.1" />
<line x1="364.60" y1="256.50" x2="491.00" y2="256.50" stroke="#222" stroke-width="1.1" />
<line x1="361.00" y1="256.30" x2="365.20" y2="256.30" stroke="#222" stroke-width="0.8" />
<text x="358.8" y="258.40000000000003" font-size="6" fill="#333" stroke="#333" stroke-width="0.06" text-anchor="end" >−2</text>
<line x1="361.00" y1="245.68" x2="365.20" y2="245.68" stroke="#222" stroke-width="0.8" />
<text x="358.8" y="247.78" font-size="6" fill="#333" stroke="#333" stroke-width="0.06" text-anchor="end" >−1</text>
<line x1="361.00" y1="235.06" x2="365.20" y2="235.06" stroke="#222" stroke-width="0.8" />
<text x="358.8" y="237.16" font-size="6" fill="#333" stroke="#333" stroke-width="0.06" text-anchor="end" >0</text>
<line x1="361.00" y1="224.44" x2="365.20" y2="224.44" stroke="#222" stroke-width="0.8" />
<text x="358.8" y="226.54" font-size="6" fill="#333" stroke="#333" stroke-width="0.06" text-anchor="end" >1</text>
<line x1="361.00" y1="213.82" x2="365.20" y2="213.82" stroke="#222" stroke-width="0.8" />
<text x="358.8" y="215.92" font-size="6" fill="#333" stroke="#333" stroke-width="0.06" text-anchor="end" >2</text>
<line x1="361.00" y1="203.20" x2="365.20" y2="203.20" stroke="#222" stroke-width="0.8" />
<text x="358.8" y="205.29999999999998" font-size="6" fill="#333" stroke="#333" stroke-width="0.06" text-anchor="end" >3</text>
<line x1="361.00" y1="192.58" x2="365.20" y2="192.58" stroke="#222" stroke-width="0.8" />
<text x="358.8" y="194.68" font-size="6" fill="#333" stroke="#333" stroke-width="0.06" text-anchor="end" >4</text>
<text transform="translate(349.3,225.5) rotate(-90)" font-size="6.8" fill="#222" stroke="#222" stroke-width="0.1" text-anchor="middle" textLength="28.4" lengthAdjust="spacingAndGlyphs">log<tspan font-size="4.4" dy="1.5">10</tspan><tspan dy="-1.5"> (TPM)</tspan></text>
<line x1="374.25" y1="205.00" x2="374.25" y2="227.40" stroke="#333" stroke-width="0.9" />
<line x1="371.45" y1="205.00" x2="377.05" y2="205.00" stroke="#333" stroke-width="0.9" />
<line x1="371.45" y1="227.40" x2="377.05" y2="227.40" stroke="#333" stroke-width="0.9" />
<rect x="369.45" y="213.90" width="9.60" height="3.4" fill="#2a9a2a"/>
<line x1="374.25" y1="256.30" x2="374.25" y2="259.30" stroke="#222" stroke-width="0.8" />
<text transform="translate(376.05,262.2) rotate(-90)" font-size="6.3" fill="#333" stroke="#333" stroke-width="0.05" text-anchor="end" font-style="italic">IRF4</text>
<line x1="387.60" y1="212.50" x2="387.60" y2="229.30" stroke="#333" stroke-width="0.9" />
<line x1="384.80" y1="212.50" x2="390.40" y2="212.50" stroke="#333" stroke-width="0.9" />
<line x1="384.80" y1="229.30" x2="390.40" y2="229.30" stroke="#333" stroke-width="0.9" />
<rect x="383.40" y="218.80" width="8.40" height="2.4" fill="#3a9a3a"/>
<line x1="387.60" y1="256.30" x2="387.60" y2="259.30" stroke="#222" stroke-width="0.8" />
<text transform="translate(389.40,262.2) rotate(-90)" font-size="6.3" fill="#4a7ab8" stroke="#4a7ab8" stroke-width="0.05" text-anchor="end" font-style="italic">MPC1</text>
<line x1="401.00" y1="216.80" x2="401.00" y2="235.00" stroke="#333" stroke-width="0.9" />
<line x1="398.20" y1="216.80" x2="403.80" y2="216.80" stroke="#333" stroke-width="0.9" />
<line x1="398.20" y1="235.00" x2="403.80" y2="235.00" stroke="#333" stroke-width="0.9" />
<rect x="396.80" y="222.60" width="8.40" height="2.4" fill="#3a8a3a"/>
<line x1="401.00" y1="256.30" x2="401.00" y2="259.30" stroke="#222" stroke-width="0.8" />
<text transform="translate(402.80,262.2) rotate(-90)" font-size="6.3" fill="#333" stroke="#333" stroke-width="0.05" text-anchor="end" font-style="italic">TMEM141</text>
<line x1="414.50" y1="219.00" x2="414.50" y2="234.20" stroke="#333" stroke-width="0.9" />
<line x1="411.70" y1="219.00" x2="417.30" y2="219.00" stroke="#333" stroke-width="0.9" />
<line x1="411.70" y1="234.20" x2="417.30" y2="234.20" stroke="#333" stroke-width="0.9" />
<rect x="410.30" y="225.10" width="8.40" height="2.4" fill="#4a9a3a"/>
<line x1="414.50" y1="256.30" x2="414.50" y2="259.30" stroke="#222" stroke-width="0.8" />
<text transform="translate(416.30,262.2) rotate(-90)" font-size="6.3" fill="#333" stroke="#333" stroke-width="0.05" text-anchor="end" font-style="italic">HINFP</text>
<line x1="428.00" y1="218.20" x2="428.00" y2="235.80" stroke="#333" stroke-width="0.9" />
<line x1="425.20" y1="218.20" x2="430.80" y2="218.20" stroke="#333" stroke-width="0.9" />
<line x1="425.20" y1="235.80" x2="430.80" y2="235.80" stroke="#333" stroke-width="0.9" />
<rect x="423.80" y="226.30" width="8.40" height="2.4" fill="#6aaa4a"/>
<line x1="428.00" y1="256.30" x2="428.00" y2="259.30" stroke="#222" stroke-width="0.8" />
<text transform="translate(429.80,262.2) rotate(-90)" font-size="6.3" fill="#333" stroke="#333" stroke-width="0.05" text-anchor="end" font-style="italic">SDLH</text>
<line x1="441.60" y1="216.50" x2="441.60" y2="238.70" stroke="#333" stroke-width="0.9" />
<line x1="438.80" y1="216.50" x2="444.40" y2="216.50" stroke="#333" stroke-width="0.9" />
<line x1="438.80" y1="238.70" x2="444.40" y2="238.70" stroke="#333" stroke-width="0.9" />
<rect x="437.40" y="226.30" width="8.40" height="2.4" fill="#8aba6a"/>
<line x1="441.60" y1="256.30" x2="441.60" y2="259.30" stroke="#222" stroke-width="0.8" />
<text transform="translate(443.40,262.2) rotate(-90)" font-size="6.3" fill="#333" stroke="#333" stroke-width="0.05" text-anchor="end" font-style="italic">FEN1</text>
<line x1="455.10" y1="217.50" x2="455.10" y2="235.50" stroke="#333" stroke-width="0.9" />
<line x1="452.30" y1="217.50" x2="457.90" y2="217.50" stroke="#333" stroke-width="0.9" />
<line x1="452.30" y1="235.50" x2="457.90" y2="235.50" stroke="#333" stroke-width="0.9" />
<rect x="450.90" y="228.00" width="8.40" height="2.4" fill="#6a7a6a"/>
<line x1="455.10" y1="256.30" x2="455.10" y2="259.30" stroke="#222" stroke-width="0.8" />
<text transform="translate(456.90,262.2) rotate(-90)" font-size="6.3" fill="#333" stroke="#333" stroke-width="0.05" text-anchor="end" font-style="italic">NAA15</text>
<line x1="468.70" y1="219.50" x2="468.70" y2="243.00" stroke="#333" stroke-width="0.9" />
<line x1="465.90" y1="219.50" x2="471.50" y2="219.50" stroke="#333" stroke-width="0.9" />
<line x1="465.90" y1="243.00" x2="471.50" y2="243.00" stroke="#333" stroke-width="0.9" />
<rect x="464.50" y="232.00" width="8.40" height="2.4" fill="#6a8a8a"/>
<line x1="468.70" y1="256.30" x2="468.70" y2="259.30" stroke="#222" stroke-width="0.8" />
<text transform="translate(470.50,262.2) rotate(-90)" font-size="6.3" fill="#333" stroke="#333" stroke-width="0.05" text-anchor="end" font-style="italic">ZNF101</text>
<line x1="482.40" y1="223.30" x2="482.40" y2="248.80" stroke="#333" stroke-width="0.9" />
<line x1="479.60" y1="223.30" x2="485.20" y2="223.30" stroke="#333" stroke-width="0.9" />
<line x1="479.60" y1="248.80" x2="485.20" y2="248.80" stroke="#333" stroke-width="0.9" />
<rect x="478.20" y="234.90" width="8.40" height="2.8" fill="#e08080"/>
<line x1="482.40" y1="256.30" x2="482.40" y2="259.30" stroke="#222" stroke-width="0.8" />
<text transform="translate(484.20,262.2) rotate(-90)" font-size="6.3" fill="#333" stroke="#333" stroke-width="0.05" text-anchor="end" font-style="italic">MTFR2</text>
<text x="38.8" y="330.8" font-size="8" fill="#222" stroke="#222" stroke-width="0.06" textLength="94" lengthAdjust="spacingAndGlyphs" >CRISPR competition assay</text>
<rect x="16.9" y="335.5" width="138.8" height="106.7" rx="8" ry="8" fill="none" stroke="#2a2a2a" stroke-width="1.3"/>
<text x="23" y="345.5" font-size="6.3" fill="#333" stroke="#333" stroke-width="0.06" textLength="34" lengthAdjust="spacingAndGlyphs" >sgMPC1-BFP</text>
<text x="21.3" y="436" font-size="6.3" fill="#333" stroke="#333" stroke-width="0.06" textLength="38.7" lengthAdjust="spacingAndGlyphs" >sgCtrl-mCherry</text>
<text x="71.3" y="357" font-size="6.3" fill="#333" stroke="#333" stroke-width="0.06" textLength="33.7" lengthAdjust="spacingAndGlyphs" >Mix 1:1 Ratio</text>
<text x="107.9" y="379.3" font-size="6.3" fill="#333" stroke="#333" stroke-width="0.06" textLength="9.5" lengthAdjust="spacingAndGlyphs" >BTZ</text>
<line x1="53.50" y1="367.80" x2="64.20" y2="367.80" stroke="#111" stroke-width="1.1" />
<polygon points="67.80,367.80 64.20,369.78 64.20,365.82" fill="#111"/>
<line x1="53.50" y1="410.30" x2="64.60" y2="410.30" stroke="#111" stroke-width="1.1" />
<polygon points="68.20,410.30 64.60,412.28 64.60,408.32" fill="#111"/>
<line x1="106.50" y1="384.30" x2="116.60" y2="384.30" stroke="#111" stroke-width="1.1" />
<polygon points="120.20,384.30 116.60,386.28 116.60,382.32" fill="#111"/>
<line x1="29.12" y1="354.14" x2="27.30" y2="350.50" stroke="#d8e4ee" stroke-width="0.4" />
<circle cx="27.30" cy="350.50" r="0.95" fill="#182848"/>
<line x1="31.08" y1="354.14" x2="32.90" y2="350.50" stroke="#d8e4ee" stroke-width="0.4" />
<circle cx="32.90" cy="350.50" r="0.95" fill="#182848"/>
<line x1="28.04" y1="355.61" x2="24.20" y2="354.70" stroke="#d8e4ee" stroke-width="0.4" />
<circle cx="24.20" cy="354.70" r="0.95" fill="#182848"/>
<line x1="32.30" y1="355.61" x2="36.40" y2="354.70" stroke="#d8e4ee" stroke-width="0.4" />
<circle cx="36.40" cy="354.70" r="0.95" fill="#182848"/>
<line x1="28.28" y1="357.08" x2="24.90" y2="358.90" stroke="#d8e4ee" stroke-width="0.4" />
<circle cx="24.90" cy="358.90" r="0.95" fill="#182848"/>
<line x1="31.82" y1="357.43" x2="35.00" y2="359.90" stroke="#d8e4ee" stroke-width="0.4" />
<circle cx="35.00" cy="359.90" r="0.95" fill="#182848"/>
<line x1="29.86" y1="358.27" x2="29.40" y2="362.30" stroke="#d8e4ee" stroke-width="0.4" />
<circle cx="29.40" cy="362.30" r="0.95" fill="#182848"/>
<polygon points="30.10,352.90 32.10,354.30 32.10,357.90 30.10,359.30 28.10,357.90 28.10,354.30" fill="#c8dcec" stroke="#90a8c0" stroke-width="0.5"/>
<line x1="30.10" y1="353.50" x2="30.10" y2="358.70" stroke="#90a8c0" stroke-width="0.4"/>
<line x1="45.32" y1="354.34" x2="43.50" y2="350.70" stroke="#d8e4ee" stroke-width="0.4" />
<circle cx="43.50" cy="350.70" r="0.95" fill="#182848"/>
<line x1="47.28" y1="354.34" x2="49.10" y2="350.70" stroke="#d8e4ee" stroke-width="0.4" />
<circle cx="49.10" cy="350.70" r="0.95" fill="#182848"/>
<line x1="44.23" y1="355.81" x2="40.40" y2="354.90" stroke="#d8e4ee" stroke-width="0.4" />
<circle cx="40.40" cy="354.90" r="0.95" fill="#182848"/>
<line x1="48.50" y1="355.81" x2="52.60" y2="354.90" stroke="#d8e4ee" stroke-width="0.4" />
<circle cx="52.60" cy="354.90" r="0.95" fill="#182848"/>
<line x1="44.48" y1="357.28" x2="41.10" y2="359.10" stroke="#d8e4ee" stroke-width="0.4" />
<circle cx="41.10" cy="359.10" r="0.95" fill="#182848"/>
<line x1="48.02" y1="357.63" x2="51.20" y2="360.10" stroke="#d8e4ee" stroke-width="0.4" />
<circle cx="51.20" cy="360.10" r="0.95" fill="#182848"/>
<line x1="46.05" y1="358.47" x2="45.60" y2="362.50" stroke="#d8e4ee" stroke-width="0.4" />
<circle cx="45.60" cy="362.50" r="0.95" fill="#182848"/>
<polygon points="46.30,353.10 48.30,354.50 48.30,358.10 46.30,359.50 44.30,358.10 44.30,354.50" fill="#c8dcec" stroke="#90a8c0" stroke-width="0.5"/>
<line x1="46.30" y1="353.70" x2="46.30" y2="358.90" stroke="#90a8c0" stroke-width="0.4"/>
<line x1="29.02" y1="419.04" x2="27.20" y2="415.40" stroke="#f0d0d8" stroke-width="0.4" />
<circle cx="27.20" cy="415.40" r="0.95" fill="#7a1030"/>
<line x1="30.98" y1="419.04" x2="32.80" y2="415.40" stroke="#f0d0d8" stroke-width="0.4" />
<circle cx="32.80" cy="415.40" r="0.95" fill="#7a1030"/>
<line x1="27.93" y1="420.51" x2="24.10" y2="419.60" stroke="#f0d0d8" stroke-width="0.4" />
<circle cx="24.10" cy="419.60" r="0.95" fill="#7a1030"/>
<line x1="32.20" y1="420.51" x2="36.30" y2="419.60" stroke="#f0d0d8" stroke-width="0.4" />
<circle cx="36.30" cy="419.60" r="0.95" fill="#7a1030"/>
<line x1="28.18" y1="421.98" x2="24.80" y2="423.80" stroke="#f0d0d8" stroke-width="0.4" />
<circle cx="24.80" cy="423.80" r="0.95" fill="#7a1030"/>
<line x1="31.71" y1="422.33" x2="34.90" y2="424.80" stroke="#f0d0d8" stroke-width="0.4" />
<circle cx="34.90" cy="424.80" r="0.95" fill="#7a1030"/>
<line x1="29.75" y1="423.17" x2="29.30" y2="427.20" stroke="#f0d0d8" stroke-width="0.4" />
<circle cx="29.30" cy="427.20" r="0.95" fill="#7a1030"/>
<polygon points="30.00,417.80 32.00,419.20 32.00,422.80 30.00,424.20 28.00,422.80 28.00,419.20" fill="#f8e4e8" stroke="#c07080" stroke-width="0.5"/>
<line x1="30.00" y1="418.40" x2="30.00" y2="423.60" stroke="#c07080" stroke-width="0.4"/>
<line x1="45.02" y1="419.04" x2="43.20" y2="415.40" stroke="#f0d0d8" stroke-width="0.4" />
<circle cx="43.20" cy="415.40" r="0.95" fill="#7a1030"/>
<line x1="46.98" y1="419.04" x2="48.80" y2="415.40" stroke="#f0d0d8" stroke-width="0.4" />
<circle cx="48.80" cy="415.40" r="0.95" fill="#7a1030"/>
<line x1="43.94" y1="420.51" x2="40.10" y2="419.60" stroke="#f0d0d8" stroke-width="0.4" />
<circle cx="40.10" cy="419.60" r="0.95" fill="#7a1030"/>
<line x1="48.20" y1="420.51" x2="52.30" y2="419.60" stroke="#f0d0d8" stroke-width="0.4" />
<circle cx="52.30" cy="419.60" r="0.95" fill="#7a1030"/>
<line x1="44.18" y1="421.98" x2="40.80" y2="423.80" stroke="#f0d0d8" stroke-width="0.4" />
<circle cx="40.80" cy="423.80" r="0.95" fill="#7a1030"/>
<line x1="47.72" y1="422.33" x2="50.90" y2="424.80" stroke="#f0d0d8" stroke-width="0.4" />
<circle cx="50.90" cy="424.80" r="0.95" fill="#7a1030"/>
<line x1="45.76" y1="423.17" x2="45.30" y2="427.20" stroke="#f0d0d8" stroke-width="0.4" />
<circle cx="45.30" cy="427.20" r="0.95" fill="#7a1030"/>
<polygon points="46.00,417.80 48.00,419.20 48.00,422.80 46.00,424.20 44.00,422.80 44.00,419.20" fill="#f8e4e8" stroke="#c07080" stroke-width="0.5"/>
<line x1="46.00" y1="418.40" x2="46.00" y2="423.60" stroke="#c07080" stroke-width="0.4"/>
<g transform="translate(35.80,376.80) rotate(22)"><ellipse cx="0" cy="0" rx="3.1" ry="5.1" fill="#c6c6c6" stroke="#fff" stroke-width="1.6"/><ellipse cx="0" cy="0" rx="3.0" ry="5.0" fill="#d4d4d4" stroke="#707070" stroke-width="0.7"/><ellipse cx="0" cy="-1.4" rx="1.6" ry="2.0" fill="#eeeeee" stroke="#6a6a6a" stroke-width="0.5"/><ellipse cx="0" cy="-1.4" rx="0.8" ry="1.0" fill="#aaaaaa"/></g>
<g transform="translate(42.90,377.80) rotate(22)"><ellipse cx="0" cy="0" rx="3.1" ry="5.1" fill="#c6c6c6" stroke="#fff" stroke-width="1.6"/><ellipse cx="0" cy="0" rx="3.0" ry="5.0" fill="#d4d4d4" stroke="#707070" stroke-width="0.7"/><ellipse cx="0" cy="-1.4" rx="1.6" ry="2.0" fill="#eeeeee" stroke="#6a6a6a" stroke-width="0.5"/><ellipse cx="0" cy="-1.4" rx="0.8" ry="1.0" fill="#aaaaaa"/></g>
<g transform="translate(28.60,386.40) rotate(22)"><ellipse cx="0" cy="0" rx="3.1" ry="5.1" fill="#c6c6c6" stroke="#fff" stroke-width="1.6"/><ellipse cx="0" cy="0" rx="3.0" ry="5.0" fill="#d4d4d4" stroke="#707070" stroke-width="0.7"/><ellipse cx="0" cy="-1.4" rx="1.6" ry="2.0" fill="#eeeeee" stroke="#6a6a6a" stroke-width="0.5"/><ellipse cx="0" cy="-1.4" rx="0.8" ry="1.0" fill="#aaaaaa"/></g>
<g transform="translate(35.80,386.90) rotate(22)"><ellipse cx="0" cy="0" rx="3.1" ry="5.1" fill="#c6c6c6" stroke="#fff" stroke-width="1.6"/><ellipse cx="0" cy="0" rx="3.0" ry="5.0" fill="#d4d4d4" stroke="#707070" stroke-width="0.7"/><ellipse cx="0" cy="-1.4" rx="1.6" ry="2.0" fill="#eeeeee" stroke="#6a6a6a" stroke-width="0.5"/><ellipse cx="0" cy="-1.4" rx="0.8" ry="1.0" fill="#aaaaaa"/></g>
<g transform="translate(43.40,387.30) rotate(22)"><ellipse cx="0" cy="0" rx="3.1" ry="5.1" fill="#c6c6c6" stroke="#fff" stroke-width="1.6"/><ellipse cx="0" cy="0" rx="3.0" ry="5.0" fill="#d4d4d4" stroke="#707070" stroke-width="0.7"/><ellipse cx="0" cy="-1.4" rx="1.6" ry="2.0" fill="#eeeeee" stroke="#6a6a6a" stroke-width="0.5"/><ellipse cx="0" cy="-1.4" rx="0.8" ry="1.0" fill="#aaaaaa"/></g>
<g transform="translate(29.60,397.90) rotate(22)"><ellipse cx="0" cy="0" rx="3.1" ry="5.1" fill="#c6c6c6" stroke="#fff" stroke-width="1.6"/><ellipse cx="0" cy="0" rx="3.0" ry="5.0" fill="#d4d4d4" stroke="#707070" stroke-width="0.7"/><ellipse cx="0" cy="-1.4" rx="1.6" ry="2.0" fill="#eeeeee" stroke="#6a6a6a" stroke-width="0.5"/><ellipse cx="0" cy="-1.4" rx="0.8" ry="1.0" fill="#aaaaaa"/></g>
<g transform="translate(37.20,398.30) rotate(22)"><ellipse cx="0" cy="0" rx="3.1" ry="5.1" fill="#c6c6c6" stroke="#fff" stroke-width="1.6"/><ellipse cx="0" cy="0" rx="3.0" ry="5.0" fill="#d4d4d4" stroke="#707070" stroke-width="0.7"/><ellipse cx="0" cy="-1.4" rx="1.6" ry="2.0" fill="#eeeeee" stroke="#6a6a6a" stroke-width="0.5"/><ellipse cx="0" cy="-1.4" rx="0.8" ry="1.0" fill="#aaaaaa"/></g>
<ellipse cx="0" cy="0" rx="5.4" ry="3.1" fill="#1f4fb0" stroke="#fff" stroke-width="0.3" transform="translate(79.60,377.40) rotate(-20)"/>
<ellipse cx="0" cy="0" rx="5.4" ry="3.1" fill="#1f4fb0" stroke="#fff" stroke-width="0.3" transform="translate(87.50,375.90) rotate(-20)"/>
<ellipse cx="0" cy="0" rx="5.4" ry="3.1" fill="#e0141e" stroke="#fff" stroke-width="0.3" transform="translate(79.20,384.20) rotate(-20)"/>
<ellipse cx="0" cy="0" rx="5.4" ry="3.1" fill="#e0141e" stroke="#fff" stroke-width="0.3" transform="translate(91.10,382.40) rotate(-20)"/>
<ellipse cx="0" cy="0" rx="5.4" ry="3.1" fill="#1f4fb0" stroke="#fff" stroke-width="0.3" transform="translate(83.90,388.90) rotate(-20)"/>
<ellipse cx="0" cy="0" rx="5.4" ry="3.1" fill="#e0141e" stroke="#fff" stroke-width="0.3" transform="translate(94.40,387.80) rotate(-20)"/>
<ellipse cx="0" cy="0" rx="5.4" ry="3.1" fill="#e0141e" stroke="#fff" stroke-width="0.3" transform="translate(83.90,395.80) rotate(-20)"/>
<ellipse cx="0" cy="0" rx="5.4" ry="3.1" fill="#1f4fb0" stroke="#fff" stroke-width="0.3" transform="translate(94.00,394.70) rotate(-20)"/>
<ellipse cx="0" cy="0" rx="4.8" ry="3.0" fill="#1f4fb0" stroke="#fff" stroke-width="0" transform="translate(125.20,392.90) rotate(-30)"/>
<ellipse cx="0" cy="0" rx="5.6" ry="3.2" fill="#e0141e" stroke="#f08080" stroke-width="0.25" transform="translate(141.80,375.90) rotate(-25)"/>
<ellipse cx="0" cy="0" rx="5.6" ry="3.2" fill="#e0141e" stroke="#f08080" stroke-width="0.25" transform="translate(132.40,379.90) rotate(-25)"/>
<ellipse cx="0" cy="0" rx="5.6" ry="3.2" fill="#e0141e" stroke="#f08080" stroke-width="0.25" transform="translate(146.90,380.30) rotate(-25)"/>
<ellipse cx="0" cy="0" rx="5.6" ry="3.2" fill="#e0141e" stroke="#f08080" stroke-width="0.25" transform="translate(129.50,385.00) rotate(-25)"/>
<ellipse cx="0" cy="0" rx="5.6" ry="3.2" fill="#e0141e" stroke="#f08080" stroke-width="0.25" transform="translate(143.30,387.80) rotate(-25)"/>
<ellipse cx="0" cy="0" rx="5.6" ry="3.2" fill="#e0141e" stroke="#f08080" stroke-width="0.25" transform="translate(134.60,389.60) rotate(-25)"/>
<ellipse cx="0" cy="0" rx="5.6" ry="3.2" fill="#e0141e" stroke="#f08080" stroke-width="0.25" transform="translate(138.90,391.80) rotate(-25)"/>
<ellipse cx="0" cy="0" rx="5.6" ry="3.2" fill="#e0141e" stroke="#f08080" stroke-width="0.25" transform="translate(133.90,395.80) rotate(-25)"/>
<ellipse cx="0" cy="0" rx="4.0" ry="2.5" fill="#1f4fb0" stroke="#fff" stroke-width="0" transform="translate(137.10,383.50) rotate(-25)"/>
<text x="320.8" y="328" font-size="8" fill="#222" stroke="#222" stroke-width="0.06" textLength="63.5" lengthAdjust="spacingAndGlyphs" >Competition assay</text>
<text x="250.7" y="339.7" font-size="5.6" fill="#333" stroke="#333" stroke-width="0.06" text-anchor="middle" textLength="27.3" lengthAdjust="spacingAndGlyphs" >sgMPC1-1</text>
<line x1="207.20" y1="341.50" x2="207.20" y2="429.50" stroke="#222" stroke-width="1.0" />
<line x1="207.20" y1="429.50" x2="293.20" y2="429.50" stroke="#222" stroke-width="1.0" />
<line x1="203.70" y1="429.60" x2="207.20" y2="429.60" stroke="#222" stroke-width="0.8" />
<text x="202.2" y="431.70000000000005" font-size="6.2" fill="#333" stroke="#333" stroke-width="0.06" text-anchor="end" >0</text>
<line x1="203.70" y1="412.38" x2="207.20" y2="412.38" stroke="#222" stroke-width="0.8" />
<text x="202.2" y="414.475" font-size="6.2" fill="#333" stroke="#333" stroke-width="0.06" text-anchor="end" >25</text>
<line x1="203.70" y1="395.15" x2="207.20" y2="395.15" stroke="#222" stroke-width="0.8" />
<text x="202.2" y="397.25000000000006" font-size="6.2" fill="#333" stroke="#333" stroke-width="0.06" text-anchor="end" >50</text>
<line x1="203.70" y1="377.93" x2="207.20" y2="377.93" stroke="#222" stroke-width="0.8" />
<text x="202.2" y="380.02500000000003" font-size="6.2" fill="#333" stroke="#333" stroke-width="0.06" text-anchor="end" >75</text>
<line x1="203.70" y1="360.70" x2="207.20" y2="360.70" stroke="#222" stroke-width="0.8" />
<text x="202.2" y="362.80000000000007" font-size="6.2" fill="#333" stroke="#333" stroke-width="0.06" text-anchor="end" >100</text>
<line x1="203.70" y1="343.48" x2="207.20" y2="343.48" stroke="#222" stroke-width="0.8" />
<text x="202.2" y="345.57500000000005" font-size="6.2" fill="#333" stroke="#333" stroke-width="0.06" text-anchor="end" >125</text>
<line x1="207.20" y1="429.50" x2="207.20" y2="432.50" stroke="#222" stroke-width="0.8" />
<text x="207.2" y="440.2" font-size="6.2" fill="#333" stroke="#333" stroke-width="0.06" text-anchor="middle" >0</text>
<line x1="234.55" y1="429.50" x2="234.55" y2="432.50" stroke="#222" stroke-width="0.8" />
<text x="234.54999999999998" y="440.2" font-size="6.2" fill="#333" stroke="#333" stroke-width="0.06" text-anchor="middle" >4</text>
<line x1="261.90" y1="429.50" x2="261.90" y2="432.50" stroke="#222" stroke-width="0.8" />
<text x="261.9" y="440.2" font-size="6.2" fill="#333" stroke="#333" stroke-width="0.06" text-anchor="middle" >8</text>
<line x1="289.25" y1="429.50" x2="289.25" y2="432.50" stroke="#222" stroke-width="0.8" />
<text x="289.25" y="440.2" font-size="6.2" fill="#333" stroke="#333" stroke-width="0.06" text-anchor="middle" >12</text>
<text x="250.39999999999998" y="451.2" font-size="7.2" fill="#222" stroke="#222" stroke-width="0.15" text-anchor="middle" textLength="20" lengthAdjust="spacingAndGlyphs" >Time (d)</text>
<polyline points="207.20,360.70 234.55,384.82 261.90,395.84 289.25,402.73" fill="none" stroke="#1f3f6a" stroke-width="1.2"/>
<circle cx="207.20" cy="360.70" r="2.1" fill="#1f3f6a" stroke="#0a1a30" stroke-width="0.6"/>
<line x1="234.55" y1="380.89" x2="234.55" y2="388.74" stroke="#333" stroke-width="0.8" />
<line x1="232.75" y1="380.89" x2="236.35" y2="380.89" stroke="#333" stroke-width="0.8" />
<line x1="232.75" y1="388.74" x2="236.35" y2="388.74" stroke="#333" stroke-width="0.8" />
<circle cx="234.55" cy="384.82" r="2.1" fill="#1f3f6a" stroke="#0a1a30" stroke-width="0.6"/>
<line x1="261.90" y1="389.16" x2="261.90" y2="402.52" stroke="#333" stroke-width="0.8" />
<line x1="260.10" y1="389.16" x2="263.70" y2="389.16" stroke="#333" stroke-width="0.8" />
<line x1="260.10" y1="402.52" x2="263.70" y2="402.52" stroke="#333" stroke-width="0.8" />
<circle cx="261.90" cy="395.84" r="2.1" fill="#1f3f6a" stroke="#0a1a30" stroke-width="0.6"/>
<line x1="289.25" y1="393.43" x2="289.25" y2="412.03" stroke="#333" stroke-width="0.8" />
<line x1="287.45" y1="393.43" x2="291.05" y2="393.43" stroke="#333" stroke-width="0.8" />
<line x1="287.45" y1="412.03" x2="291.05" y2="412.03" stroke="#333" stroke-width="0.8" />
<circle cx="289.25" cy="402.73" r="2.1" fill="#1f3f6a" stroke="#0a1a30" stroke-width="0.6"/>
<polyline points="207.20,360.70 234.55,357.25 261.90,373.79 289.25,378.61" fill="none" stroke="#c8203a" stroke-width="1.2"/>
<rect x="205.10" y="358.60" width="4.2" height="4.2" fill="#b01838" stroke="#6a1020" stroke-width="0.6"/>
<line x1="234.55" y1="352.78" x2="234.55" y2="361.73" stroke="#333" stroke-width="0.8" />
<line x1="232.75" y1="352.78" x2="236.35" y2="352.78" stroke="#333" stroke-width="0.8" />
<line x1="232.75" y1="361.73" x2="236.35" y2="361.73" stroke="#333" stroke-width="0.8" />
<rect x="232.45" y="355.15" width="4.2" height="4.2" fill="#b01838" stroke="#6a1020" stroke-width="0.6"/>
<line x1="261.90" y1="369.66" x2="261.90" y2="377.93" stroke="#333" stroke-width="0.8" />
<line x1="260.10" y1="369.66" x2="263.70" y2="369.66" stroke="#333" stroke-width="0.8" />
<line x1="260.10" y1="377.93" x2="263.70" y2="377.93" stroke="#333" stroke-width="0.8" />
<rect x="259.80" y="371.69" width="4.2" height="4.2" fill="#b01838" stroke="#6a1020" stroke-width="0.6"/>
<line x1="289.25" y1="372.83" x2="289.25" y2="384.40" stroke="#333" stroke-width="0.8" />
<line x1="287.45" y1="372.83" x2="291.05" y2="372.83" stroke="#333" stroke-width="0.8" />
<line x1="287.45" y1="384.40" x2="291.05" y2="384.40" stroke="#333" stroke-width="0.8" />
<rect x="287.15" y="376.51" width="4.2" height="4.2" fill="#b01838" stroke="#6a1020" stroke-width="0.6"/>
<text x="234.54999999999998" y="393.7423" font-size="4.5" fill="#333" stroke="#333" stroke-width="0.06" text-anchor="middle" >*</text>
<text x="234.54999999999998" y="396.3423" font-size="4.5" fill="#333" stroke="#333" stroke-width="0.06" text-anchor="middle" >*</text>
<text x="261.9" y="407.52230000000003" font-size="4.5" fill="#333" stroke="#333" stroke-width="0.06" text-anchor="middle" >*</text>
<text x="289.25" y="417.0305" font-size="4.5" fill="#333" stroke="#333" stroke-width="0.06" text-anchor="middle" >*</text>
<text x="361.5" y="339.7" font-size="5.6" fill="#333" stroke="#333" stroke-width="0.06" text-anchor="middle" textLength="27.3" lengthAdjust="spacingAndGlyphs" >sgMPC1-2</text>
<line x1="318.00" y1="341.50" x2="318.00" y2="429.50" stroke="#222" stroke-width="1.0" />
<line x1="318.00" y1="429.50" x2="404.00" y2="429.50" stroke="#222" stroke-width="1.0" />
<line x1="314.50" y1="429.60" x2="318.00" y2="429.60" stroke="#222" stroke-width="0.8" />
<text x="313.0" y="431.70000000000005" font-size="6.2" fill="#333" stroke="#333" stroke-width="0.06" text-anchor="end" >0</text>
<line x1="314.50" y1="412.38" x2="318.00" y2="412.38" stroke="#222" stroke-width="0.8" />
<text x="313.0" y="414.475" font-size="6.2" fill="#333" stroke="#333" stroke-width="0.06" text-anchor="end" >25</text>
<line x1="314.50" y1="395.15" x2="318.00" y2="395.15" stroke="#222" stroke-width="0.8" />
<text x="313.0" y="397.25000000000006" font-size="6.2" fill="#333" stroke="#333" stroke-width="0.06" text-anchor="end" >50</text>
<line x1="314.50" y1="377.93" x2="318.00" y2="377.93" stroke="#222" stroke-width="0.8" />
<text x="313.0" y="380.02500000000003" font-size="6.2" fill="#333" stroke="#333" stroke-width="0.06" text-anchor="end" >75</text>
<line x1="314.50" y1="360.70" x2="318.00" y2="360.70" stroke="#222" stroke-width="0.8" />
<text x="313.0" y="362.80000000000007" font-size="6.2" fill="#333" stroke="#333" stroke-width="0.06" text-anchor="end" >100</text>
<line x1="314.50" y1="343.48" x2="318.00" y2="343.48" stroke="#222" stroke-width="0.8" />
<text x="313.0" y="345.57500000000005" font-size="6.2" fill="#333" stroke="#333" stroke-width="0.06" text-anchor="end" >125</text>
<line x1="318.00" y1="429.50" x2="318.00" y2="432.50" stroke="#222" stroke-width="0.8" />
<text x="318.0" y="440.2" font-size="6.2" fill="#333" stroke="#333" stroke-width="0.06" text-anchor="middle" >0</text>
<line x1="345.35" y1="429.50" x2="345.35" y2="432.50" stroke="#222" stroke-width="0.8" />
<text x="345.35" y="440.2" font-size="6.2" fill="#333" stroke="#333" stroke-width="0.06" text-anchor="middle" >4</text>
<line x1="372.70" y1="429.50" x2="372.70" y2="432.50" stroke="#222" stroke-width="0.8" />
<text x="372.7" y="440.2" font-size="6.2" fill="#333" stroke="#333" stroke-width="0.06" text-anchor="middle" >8</text>
<line x1="400.05" y1="429.50" x2="400.05" y2="432.50" stroke="#222" stroke-width="0.8" />
<text x="400.05" y="440.2" font-size="6.2" fill="#333" stroke="#333" stroke-width="0.06" text-anchor="middle" >12</text>
<text x="361.2" y="451.2" font-size="7.2" fill="#222" stroke="#222" stroke-width="0.15" text-anchor="middle" textLength="20" lengthAdjust="spacingAndGlyphs" >Time (d)</text>
<polyline points="318.00,360.70 345.35,386.88 372.70,393.77 400.05,397.91" fill="none" stroke="#1f3f6a" stroke-width="1.2"/>
<circle cx="318.00" cy="360.70" r="2.1" fill="#1f3f6a" stroke="#0a1a30" stroke-width="0.6"/>
<line x1="345.35" y1="382.40" x2="345.35" y2="391.36" stroke="#333" stroke-width="0.8" />
<line x1="343.55" y1="382.40" x2="347.15" y2="382.40" stroke="#333" stroke-width="0.8" />
<line x1="343.55" y1="391.36" x2="347.15" y2="391.36" stroke="#333" stroke-width="0.8" />
<circle cx="345.35" cy="386.88" r="2.1" fill="#1f3f6a" stroke="#0a1a30" stroke-width="0.6"/>
<line x1="372.70" y1="391.71" x2="372.70" y2="395.84" stroke="#333" stroke-width="0.8" />
<line x1="370.90" y1="391.71" x2="374.50" y2="391.71" stroke="#333" stroke-width="0.8" />
<line x1="370.90" y1="395.84" x2="374.50" y2="395.84" stroke="#333" stroke-width="0.8" />
<circle cx="372.70" cy="393.77" r="2.1" fill="#1f3f6a" stroke="#0a1a30" stroke-width="0.6"/>
<line x1="400.05" y1="396.53" x2="400.05" y2="399.28" stroke="#333" stroke-width="0.8" />
<line x1="398.25" y1="396.53" x2="401.85" y2="396.53" stroke="#333" stroke-width="0.8" />
<line x1="398.25" y1="399.28" x2="401.85" y2="399.28" stroke="#333" stroke-width="0.8" />
<circle cx="400.05" cy="397.91" r="2.1" fill="#1f3f6a" stroke="#0a1a30" stroke-width="0.6"/>
<polyline points="318.00,360.70 345.35,360.01 372.70,373.79 400.05,378.61" fill="none" stroke="#c8203a" stroke-width="1.2"/>
<rect x="315.90" y="358.60" width="4.2" height="4.2" fill="#b01838" stroke="#6a1020" stroke-width="0.6"/>
<line x1="345.35" y1="355.26" x2="345.35" y2="364.77" stroke="#333" stroke-width="0.8" />
<line x1="343.55" y1="355.26" x2="347.15" y2="355.26" stroke="#333" stroke-width="0.8" />
<line x1="343.55" y1="364.77" x2="347.15" y2="364.77" stroke="#333" stroke-width="0.8" />
<rect x="343.25" y="357.91" width="4.2" height="4.2" fill="#b01838" stroke="#6a1020" stroke-width="0.6"/>
<line x1="372.70" y1="372.41" x2="372.70" y2="375.17" stroke="#333" stroke-width="0.8" />
<line x1="370.90" y1="372.41" x2="374.50" y2="372.41" stroke="#333" stroke-width="0.8" />
<line x1="370.90" y1="375.17" x2="374.50" y2="375.17" stroke="#333" stroke-width="0.8" />
<rect x="370.60" y="371.69" width="4.2" height="4.2" fill="#b01838" stroke="#6a1020" stroke-width="0.6"/>
<line x1="400.05" y1="371.72" x2="400.05" y2="385.50" stroke="#333" stroke-width="0.8" />
<line x1="398.25" y1="371.72" x2="401.85" y2="371.72" stroke="#333" stroke-width="0.8" />
<line x1="398.25" y1="385.50" x2="401.85" y2="385.50" stroke="#333" stroke-width="0.8" />
<rect x="397.95" y="376.51" width="4.2" height="4.2" fill="#b01838" stroke="#6a1020" stroke-width="0.6"/>
<text x="345.35" y="396.3605" font-size="4.5" fill="#333" stroke="#333" stroke-width="0.06" text-anchor="middle" >*</text>
<text x="345.35" y="398.9605" font-size="4.5" fill="#333" stroke="#333" stroke-width="0.06" text-anchor="middle" >*</text>
<text x="345.35" y="401.5605" font-size="4.5" fill="#333" stroke="#333" stroke-width="0.06" text-anchor="middle" >*</text>
<text x="372.7" y="400.83900000000006" font-size="4.5" fill="#333" stroke="#333" stroke-width="0.06" text-anchor="middle" >*</text>
<text x="372.7" y="403.4390000000001" font-size="4.5" fill="#333" stroke="#333" stroke-width="0.06" text-anchor="middle" >*</text>
<text x="400.05" y="404.28400000000005" font-size="4.5" fill="#333" stroke="#333" stroke-width="0.06" text-anchor="middle" >*</text>
<text x="400.05" y="406.88400000000007" font-size="4.5" fill="#333" stroke="#333" stroke-width="0.06" text-anchor="middle" >*</text>
<text x="471.7" y="339.7" font-size="5.6" fill="#333" stroke="#333" stroke-width="0.06" text-anchor="middle" textLength="27.3" lengthAdjust="spacingAndGlyphs" >sgMPC1-3</text>
<line x1="428.20" y1="341.50" x2="428.20" y2="429.50" stroke="#222" stroke-width="1.0" />
<line x1="428.20" y1="429.50" x2="514.20" y2="429.50" stroke="#222" stroke-width="1.0" />
<line x1="424.70" y1="429.60" x2="428.20" y2="429.60" stroke="#222" stroke-width="0.8" />
<text x="423.2" y="431.70000000000005" font-size="6.2" fill="#333" stroke="#333" stroke-width="0.06" text-anchor="end" >0</text>
<line x1="424.70" y1="412.38" x2="428.20" y2="412.38" stroke="#222" stroke-width="0.8" />
<text x="423.2" y="414.475" font-size="6.2" fill="#333" stroke="#333" stroke-width="0.06" text-anchor="end" >25</text>
<line x1="424.70" y1="395.15" x2="428.20" y2="395.15" stroke="#222" stroke-width="0.8" />
<text x="423.2" y="397.25000000000006" font-size="6.2" fill="#333" stroke="#333" stroke-width="0.06" text-anchor="end" >50</text>
<line x1="424.70" y1="377.93" x2="428.20" y2="377.93" stroke="#222" stroke-width="0.8" />
<text x="423.2" y="380.02500000000003" font-size="6.2" fill="#333" stroke="#333" stroke-width="0.06" text-anchor="end" >75</text>
<line x1="424.70" y1="360.70" x2="428.20" y2="360.70" stroke="#222" stroke-width="0.8" />
<text x="423.2" y="362.80000000000007" font-size="6.2" fill="#333" stroke="#333" stroke-width="0.06" text-anchor="end" >100</text>
<line x1="424.70" y1="343.48" x2="428.20" y2="343.48" stroke="#222" stroke-width="0.8" />
<text x="423.2" y="345.57500000000005" font-size="6.2" fill="#333" stroke="#333" stroke-width="0.06" text-anchor="end" >125</text>
<line x1="428.20" y1="429.50" x2="428.20" y2="432.50" stroke="#222" stroke-width="0.8" />
<text x="428.2" y="440.2" font-size="6.2" fill="#333" stroke="#333" stroke-width="0.06" text-anchor="middle" >0</text>
<line x1="455.55" y1="429.50" x2="455.55" y2="432.50" stroke="#222" stroke-width="0.8" />
<text x="455.55" y="440.2" font-size="6.2" fill="#333" stroke="#333" stroke-width="0.06" text-anchor="middle" >4</text>
<line x1="482.90" y1="429.50" x2="482.90" y2="432.50" stroke="#222" stroke-width="0.8" />
<text x="482.9" y="440.2" font-size="6.2" fill="#333" stroke="#333" stroke-width="0.06" text-anchor="middle" >8</text>
<line x1="510.25" y1="429.50" x2="510.25" y2="432.50" stroke="#222" stroke-width="0.8" />
<text x="510.25" y="440.2" font-size="6.2" fill="#333" stroke="#333" stroke-width="0.06" text-anchor="middle" >12</text>
<text x="471.4" y="451.2" font-size="7.2" fill="#222" stroke="#222" stroke-width="0.15" text-anchor="middle" textLength="20" lengthAdjust="spacingAndGlyphs" >Time (d)</text>
<polyline points="428.20,360.70 455.55,381.37 482.90,385.50 510.25,394.46" fill="none" stroke="#1f3f6a" stroke-width="1.2"/>
<circle cx="428.20" cy="360.70" r="2.1" fill="#1f3f6a" stroke="#0a1a30" stroke-width="0.6"/>
<line x1="455.55" y1="376.96" x2="455.55" y2="385.78" stroke="#333" stroke-width="0.8" />
<line x1="453.75" y1="376.96" x2="457.35" y2="376.96" stroke="#333" stroke-width="0.8" />
<line x1="453.75" y1="385.78" x2="457.35" y2="385.78" stroke="#333" stroke-width="0.8" />
<circle cx="455.55" cy="381.37" r="2.1" fill="#1f3f6a" stroke="#0a1a30" stroke-width="0.6"/>
<line x1="482.90" y1="378.13" x2="482.90" y2="392.88" stroke="#333" stroke-width="0.8" />
<line x1="481.10" y1="378.13" x2="484.70" y2="378.13" stroke="#333" stroke-width="0.8" />
<line x1="481.10" y1="392.88" x2="484.70" y2="392.88" stroke="#333" stroke-width="0.8" />
<circle cx="482.90" cy="385.50" r="2.1" fill="#1f3f6a" stroke="#0a1a30" stroke-width="0.6"/>
<line x1="510.25" y1="382.89" x2="510.25" y2="406.04" stroke="#333" stroke-width="0.8" />
<line x1="508.45" y1="382.89" x2="512.05" y2="382.89" stroke="#333" stroke-width="0.8" />
<line x1="508.45" y1="406.04" x2="512.05" y2="406.04" stroke="#333" stroke-width="0.8" />
<circle cx="510.25" cy="394.46" r="2.1" fill="#1f3f6a" stroke="#0a1a30" stroke-width="0.6"/>
<polyline points="428.20,360.70 455.55,360.01 482.90,372.41 510.25,377.24" fill="none" stroke="#c8203a" stroke-width="1.2"/>
<rect x="426.10" y="358.60" width="4.2" height="4.2" fill="#b01838" stroke="#6a1020" stroke-width="0.6"/>
<line x1="455.55" y1="357.94" x2="455.55" y2="362.08" stroke="#333" stroke-width="0.8" />
<line x1="453.75" y1="357.94" x2="457.35" y2="357.94" stroke="#333" stroke-width="0.8" />
<line x1="453.75" y1="362.08" x2="457.35" y2="362.08" stroke="#333" stroke-width="0.8" />
<rect x="453.45" y="357.91" width="4.2" height="4.2" fill="#b01838" stroke="#6a1020" stroke-width="0.6"/>
<line x1="482.90" y1="370.35" x2="482.90" y2="374.48" stroke="#333" stroke-width="0.8" />
<line x1="481.10" y1="370.35" x2="484.70" y2="370.35" stroke="#333" stroke-width="0.8" />
<line x1="481.10" y1="374.48" x2="484.70" y2="374.48" stroke="#333" stroke-width="0.8" />
<rect x="480.80" y="370.31" width="4.2" height="4.2" fill="#b01838" stroke="#6a1020" stroke-width="0.6"/>
<line x1="510.25" y1="371.45" x2="510.25" y2="383.02" stroke="#333" stroke-width="0.8" />
<line x1="508.45" y1="371.45" x2="512.05" y2="371.45" stroke="#333" stroke-width="0.8" />
<line x1="508.45" y1="383.02" x2="512.05" y2="383.02" stroke="#333" stroke-width="0.8" />
<rect x="508.15" y="375.14" width="4.2" height="4.2" fill="#b01838" stroke="#6a1020" stroke-width="0.6"/>
<text x="455.55" y="390.7796" font-size="4.5" fill="#333" stroke="#333" stroke-width="0.06" text-anchor="middle" >*</text>
<text x="482.9" y="397.8763" font-size="4.5" fill="#333" stroke="#333" stroke-width="0.06" text-anchor="middle" >*</text>
<text x="510.25" y="411.0362" font-size="4.5" fill="#333" stroke="#333" stroke-width="0.06" text-anchor="middle" >*</text>
<text transform="translate(185.3,385.6) rotate(-90)" font-size="7.2" fill="#222" stroke="#222" stroke-width="0.1" text-anchor="middle" textLength="60.5" lengthAdjust="spacingAndGlyphs">Ratio BFP/mCherry (%)</text>
<line x1="318.60" y1="461.20" x2="332.50" y2="461.20" stroke="#c8203a" stroke-width="1.3" />
<rect x="322.8" y="458.4" width="5.6" height="5.6" fill="#b8102a" stroke="#5a1020" stroke-width="0.5"/>
<text x="336" y="463.4" font-size="6.4" fill="#333" stroke="#333" stroke-width="0.06" textLength="16.4" lengthAdjust="spacingAndGlyphs" >DMSO</text>
<line x1="359.30" y1="461.20" x2="373.00" y2="461.20" stroke="#1f3f6a" stroke-width="1.3" />
<circle cx="366" cy="461.2" r="2.8" fill="#1f3f6a" stroke="#102030" stroke-width="0.5"/>
<text x="375.7" y="463.4" font-size="6.4" fill="#333" stroke="#333" stroke-width="0.06" textLength="10.3" lengthAdjust="spacingAndGlyphs" >BTZ</text>
</svg></body></html>
